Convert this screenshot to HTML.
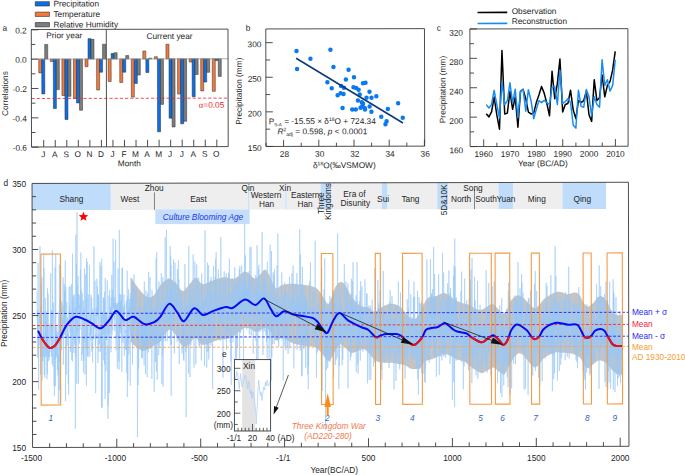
<!DOCTYPE html>
<html><head><meta charset="utf-8"><style>
html,body{margin:0;padding:0;background:#fff;width:685px;height:475px;overflow:hidden}
svg{display:block}
text{font-family:"Liberation Sans",sans-serif}
</style></head><body>
<svg width="685" height="475" viewBox="0 0 685 475">
<g transform="rotate(-0.115 130 88)">
<rect x="35.4" y="1.5" width="14.2" height="4.3" fill="#0b6fe9" stroke="#2a2a2a" stroke-width="0.6"/>
<text x="53.6" y="6.4" font-size="8.3" text-anchor="start" fill="#1e1e1e" >Precipitation</text>
<rect x="35.4" y="11.95" width="14.2" height="4.3" fill="#f4793a" stroke="#2a2a2a" stroke-width="0.6"/>
<text x="53.6" y="16.85" font-size="8.3" text-anchor="start" fill="#1e1e1e" >Temperature</text>
<rect x="35.4" y="22.4" width="14.2" height="4.3" fill="#7d7d7d" stroke="#2a2a2a" stroke-width="0.6"/>
<text x="53.6" y="27.3" font-size="8.3" text-anchor="start" fill="#1e1e1e" >Relative Humidity</text>
<text x="2.6" y="30.4" font-size="8.3" text-anchor="start" fill="#1e1e1e" >a</text>
<rect x="38.8" y="58.95" width="3" height="13.79" fill="#f4793a" stroke="#2a2a2a" stroke-width="0.5"/>
<rect x="41.8" y="58.95" width="3" height="34.78" fill="#0b6fe9" stroke="#2a2a2a" stroke-width="0.5"/>
<rect x="44.8" y="44.28" width="3" height="14.67" fill="#7d7d7d" stroke="#2a2a2a" stroke-width="0.5"/>
<rect x="50.37" y="58.95" width="3" height="2.35" fill="#f4793a" stroke="#2a2a2a" stroke-width="0.5"/>
<rect x="53.37" y="58.95" width="3" height="49.45" fill="#0b6fe9" stroke="#2a2a2a" stroke-width="0.5"/>
<rect x="56.37" y="58.95" width="3" height="30.52" fill="#7d7d7d" stroke="#2a2a2a" stroke-width="0.5"/>
<rect x="61.93" y="58.95" width="3" height="36.39" fill="#f4793a" stroke="#2a2a2a" stroke-width="0.5"/>
<rect x="64.93" y="58.95" width="3" height="60.46" fill="#0b6fe9" stroke="#2a2a2a" stroke-width="0.5"/>
<rect x="67.93" y="58.95" width="3" height="37.27" fill="#7d7d7d" stroke="#2a2a2a" stroke-width="0.5"/>
<rect x="73.5" y="58.95" width="3" height="39.33" fill="#f4793a" stroke="#2a2a2a" stroke-width="0.5"/>
<rect x="76.5" y="58.95" width="3" height="43.88" fill="#0b6fe9" stroke="#2a2a2a" stroke-width="0.5"/>
<rect x="79.5" y="58.95" width="3" height="51.22" fill="#7d7d7d" stroke="#2a2a2a" stroke-width="0.5"/>
<rect x="85.07" y="58.95" width="3" height="7.63" fill="#f4793a" stroke="#2a2a2a" stroke-width="0.5"/>
<rect x="88.07" y="38.55" width="3" height="20.4" fill="#0b6fe9" stroke="#2a2a2a" stroke-width="0.5"/>
<rect x="91.07" y="39.29" width="3" height="19.66" fill="#7d7d7d" stroke="#2a2a2a" stroke-width="0.5"/>
<rect x="96.63" y="58.95" width="3" height="30.96" fill="#f4793a" stroke="#2a2a2a" stroke-width="0.5"/>
<rect x="99.63" y="58.95" width="3" height="13.21" fill="#0b6fe9" stroke="#2a2a2a" stroke-width="0.5"/>
<rect x="102.63" y="44.13" width="3" height="14.82" fill="#7d7d7d" stroke="#2a2a2a" stroke-width="0.5"/>
<rect x="108.2" y="58.95" width="3" height="22.45" fill="#f4793a" stroke="#2a2a2a" stroke-width="0.5"/>
<rect x="111.2" y="53.52" width="3" height="5.43" fill="#0b6fe9" stroke="#2a2a2a" stroke-width="0.5"/>
<rect x="114.2" y="52.64" width="3" height="6.31" fill="#7d7d7d" stroke="#2a2a2a" stroke-width="0.5"/>
<rect x="119.77" y="58.95" width="3" height="23.48" fill="#f4793a" stroke="#2a2a2a" stroke-width="0.5"/>
<rect x="122.77" y="58.95" width="3" height="13.21" fill="#0b6fe9" stroke="#2a2a2a" stroke-width="0.5"/>
<rect x="125.77" y="55.57" width="3" height="3.38" fill="#7d7d7d" stroke="#2a2a2a" stroke-width="0.5"/>
<rect x="131.34" y="58.95" width="3" height="38.16" fill="#f4793a" stroke="#2a2a2a" stroke-width="0.5"/>
<rect x="134.34" y="58.95" width="3" height="24.51" fill="#0b6fe9" stroke="#2a2a2a" stroke-width="0.5"/>
<rect x="137.34" y="58.95" width="3" height="16.14" fill="#7d7d7d" stroke="#2a2a2a" stroke-width="0.5"/>
<rect x="142.9" y="51.03" width="3" height="7.92" fill="#f4793a" stroke="#2a2a2a" stroke-width="0.5"/>
<rect x="145.9" y="58.95" width="3" height="13.65" fill="#0b6fe9" stroke="#2a2a2a" stroke-width="0.5"/>
<rect x="148.9" y="58.22" width="3" height="0.73" fill="#7d7d7d" stroke="#2a2a2a" stroke-width="0.5"/>
<rect x="154.47" y="56.75" width="3" height="2.2" fill="#f4793a" stroke="#2a2a2a" stroke-width="0.5"/>
<rect x="157.47" y="58.95" width="3" height="72.93" fill="#0b6fe9" stroke="#2a2a2a" stroke-width="0.5"/>
<rect x="160.47" y="58.95" width="3" height="45.49" fill="#7d7d7d" stroke="#2a2a2a" stroke-width="0.5"/>
<rect x="166.04" y="44.28" width="3" height="14.67" fill="#f4793a" stroke="#2a2a2a" stroke-width="0.5"/>
<rect x="169.04" y="58.95" width="3" height="59.29" fill="#0b6fe9" stroke="#2a2a2a" stroke-width="0.5"/>
<rect x="172.04" y="58.95" width="3" height="68.09" fill="#7d7d7d" stroke="#2a2a2a" stroke-width="0.5"/>
<rect x="177.6" y="58.95" width="3" height="35.22" fill="#f4793a" stroke="#2a2a2a" stroke-width="0.5"/>
<rect x="180.6" y="58.95" width="3" height="65.01" fill="#0b6fe9" stroke="#2a2a2a" stroke-width="0.5"/>
<rect x="183.6" y="58.95" width="3" height="62.37" fill="#7d7d7d" stroke="#2a2a2a" stroke-width="0.5"/>
<rect x="189.17" y="58.95" width="3" height="3.23" fill="#f4793a" stroke="#2a2a2a" stroke-width="0.5"/>
<rect x="192.17" y="58.95" width="3" height="37.86" fill="#0b6fe9" stroke="#2a2a2a" stroke-width="0.5"/>
<rect x="195.17" y="58.95" width="3" height="15.7" fill="#7d7d7d" stroke="#2a2a2a" stroke-width="0.5"/>
<rect x="200.74" y="58.95" width="3" height="32.14" fill="#f4793a" stroke="#2a2a2a" stroke-width="0.5"/>
<rect x="203.74" y="58.95" width="3" height="23.19" fill="#0b6fe9" stroke="#2a2a2a" stroke-width="0.5"/>
<rect x="206.74" y="58.95" width="3" height="13.5" fill="#7d7d7d" stroke="#2a2a2a" stroke-width="0.5"/>
<rect x="212.31" y="58.95" width="3" height="32.58" fill="#f4793a" stroke="#2a2a2a" stroke-width="0.5"/>
<rect x="215.31" y="58.95" width="3" height="1.76" fill="#0b6fe9" stroke="#2a2a2a" stroke-width="0.5"/>
<rect x="218.31" y="58.95" width="3" height="17.61" fill="#7d7d7d" stroke="#2a2a2a" stroke-width="0.5"/>
<line x1="31.4" y1="58.95" x2="228.1" y2="58.95" stroke="#9a9a9a" stroke-width="0.8" />
<line x1="31.4" y1="98.3" x2="228.1" y2="98.3" stroke="#e8262c" stroke-width="0.8" stroke-dasharray="3.2,2"/>
<rect x="31.4" y="29.3" width="196.7" height="117.5" fill="none" stroke="#3a3a3a" stroke-width="0.9"/>
<line x1="106.4" y1="29.3" x2="106.4" y2="146.8" stroke="#3a3a3a" stroke-width="0.9" />
<line x1="31.4" y1="29.6" x2="38.4" y2="29.6" stroke="#3a3a3a" stroke-width="0.9" />
<line x1="31.4" y1="44.28" x2="35.4" y2="44.28" stroke="#3a3a3a" stroke-width="0.9" />
<line x1="31.4" y1="58.95" x2="38.4" y2="58.95" stroke="#3a3a3a" stroke-width="0.9" />
<line x1="31.4" y1="73.62" x2="35.4" y2="73.62" stroke="#3a3a3a" stroke-width="0.9" />
<line x1="31.4" y1="88.3" x2="38.4" y2="88.3" stroke="#3a3a3a" stroke-width="0.9" />
<line x1="31.4" y1="102.97" x2="35.4" y2="102.97" stroke="#3a3a3a" stroke-width="0.9" />
<line x1="31.4" y1="117.65" x2="38.4" y2="117.65" stroke="#3a3a3a" stroke-width="0.9" />
<line x1="31.4" y1="132.32" x2="35.4" y2="132.32" stroke="#3a3a3a" stroke-width="0.9" />
<line x1="31.4" y1="147" x2="38.4" y2="147" stroke="#3a3a3a" stroke-width="0.9" />
<text x="26.8" y="33.2" font-size="8.3" text-anchor="end" fill="#1e1e1e" >0.2</text>
<text x="26.8" y="62.55" font-size="8.3" text-anchor="end" fill="#1e1e1e" >0.0</text>
<text x="26.8" y="91.9" font-size="8.3" text-anchor="end" fill="#1e1e1e" >-0.2</text>
<text x="26.8" y="121.25" font-size="8.3" text-anchor="end" fill="#1e1e1e" >-0.4</text>
<text x="26.8" y="150.6" font-size="8.3" text-anchor="end" fill="#1e1e1e" >-0.6</text>
<line x1="43.6" y1="146.8" x2="43.6" y2="139.8" stroke="#3a3a3a" stroke-width="0.9" />
<text x="43.1" y="157" font-size="8.3" text-anchor="middle" fill="#1e1e1e" >J</text>
<line x1="55.14" y1="146.8" x2="55.14" y2="139.8" stroke="#3a3a3a" stroke-width="0.9" />
<text x="54.64" y="157" font-size="8.3" text-anchor="middle" fill="#1e1e1e" >A</text>
<line x1="66.68" y1="146.8" x2="66.68" y2="139.8" stroke="#3a3a3a" stroke-width="0.9" />
<text x="66.18" y="157" font-size="8.3" text-anchor="middle" fill="#1e1e1e" >S</text>
<line x1="78.22" y1="146.8" x2="78.22" y2="139.8" stroke="#3a3a3a" stroke-width="0.9" />
<text x="77.72" y="157" font-size="8.3" text-anchor="middle" fill="#1e1e1e" >O</text>
<line x1="89.76" y1="146.8" x2="89.76" y2="139.8" stroke="#3a3a3a" stroke-width="0.9" />
<text x="89.26" y="157" font-size="8.3" text-anchor="middle" fill="#1e1e1e" >N</text>
<line x1="101.3" y1="146.8" x2="101.3" y2="139.8" stroke="#3a3a3a" stroke-width="0.9" />
<text x="100.8" y="157" font-size="8.3" text-anchor="middle" fill="#1e1e1e" >D</text>
<line x1="112.84" y1="146.8" x2="112.84" y2="139.8" stroke="#3a3a3a" stroke-width="0.9" />
<text x="112.34" y="157" font-size="8.3" text-anchor="middle" fill="#1e1e1e" >J</text>
<line x1="124.38" y1="146.8" x2="124.38" y2="139.8" stroke="#3a3a3a" stroke-width="0.9" />
<text x="123.88" y="157" font-size="8.3" text-anchor="middle" fill="#1e1e1e" >F</text>
<line x1="135.92" y1="146.8" x2="135.92" y2="139.8" stroke="#3a3a3a" stroke-width="0.9" />
<text x="135.42" y="157" font-size="8.3" text-anchor="middle" fill="#1e1e1e" >M</text>
<line x1="147.46" y1="146.8" x2="147.46" y2="139.8" stroke="#3a3a3a" stroke-width="0.9" />
<text x="146.96" y="157" font-size="8.3" text-anchor="middle" fill="#1e1e1e" >A</text>
<line x1="159" y1="146.8" x2="159" y2="139.8" stroke="#3a3a3a" stroke-width="0.9" />
<text x="158.5" y="157" font-size="8.3" text-anchor="middle" fill="#1e1e1e" >M</text>
<line x1="170.54" y1="146.8" x2="170.54" y2="139.8" stroke="#3a3a3a" stroke-width="0.9" />
<text x="170.04" y="157" font-size="8.3" text-anchor="middle" fill="#1e1e1e" >J</text>
<line x1="182.08" y1="146.8" x2="182.08" y2="139.8" stroke="#3a3a3a" stroke-width="0.9" />
<text x="181.58" y="157" font-size="8.3" text-anchor="middle" fill="#1e1e1e" >J</text>
<line x1="193.62" y1="146.8" x2="193.62" y2="139.8" stroke="#3a3a3a" stroke-width="0.9" />
<text x="193.12" y="157" font-size="8.3" text-anchor="middle" fill="#1e1e1e" >A</text>
<line x1="205.16" y1="146.8" x2="205.16" y2="139.8" stroke="#3a3a3a" stroke-width="0.9" />
<text x="204.66" y="157" font-size="8.3" text-anchor="middle" fill="#1e1e1e" >S</text>
<line x1="216.7" y1="146.8" x2="216.7" y2="139.8" stroke="#3a3a3a" stroke-width="0.9" />
<text x="216.2" y="157" font-size="8.3" text-anchor="middle" fill="#1e1e1e" >O</text>
<text x="129.2" y="166.2" font-size="8.3" text-anchor="middle" fill="#1e1e1e" >Month</text>
<text transform="translate(7.9,93.3) rotate(-90)" font-size="8.3" text-anchor="middle" fill="#1e1e1e">Correlations</text>
<text x="46.4" y="38.2" font-size="8.3" text-anchor="start" fill="#1e1e1e" >Prior year</text>
<text x="146.6" y="39" font-size="8.3" text-anchor="start" fill="#1e1e1e" >Current year</text>
<text x="224.3" y="108" font-size="8.3" text-anchor="end" fill="#e8262c"><tspan font-family="Liberation Serif" font-size="8.5">&#945;</tspan>=0.05</text>
</g>
<g transform="rotate(-0.115 345 88)">
<text x="245.9" y="30.6" font-size="8.3" text-anchor="start" fill="#1e1e1e" >b</text>
<circle cx="296.6" cy="51" r="2.25" fill="#0a78f0"/>
<circle cx="297.1" cy="68.8" r="2.25" fill="#0a78f0"/>
<circle cx="310.5" cy="58.7" r="2.25" fill="#0a78f0"/>
<circle cx="330.5" cy="49.7" r="2.25" fill="#0a78f0"/>
<circle cx="333.5" cy="67" r="2.25" fill="#0a78f0"/>
<circle cx="348.6" cy="69.7" r="2.25" fill="#0a78f0"/>
<circle cx="354" cy="77.3" r="2.25" fill="#0a78f0"/>
<circle cx="345.9" cy="79.4" r="2.25" fill="#0a78f0"/>
<circle cx="327.4" cy="82.1" r="2.25" fill="#0a78f0"/>
<circle cx="331.7" cy="88.2" r="2.25" fill="#0a78f0"/>
<circle cx="341.1" cy="86" r="2.25" fill="#0a78f0"/>
<circle cx="344" cy="87.7" r="2.25" fill="#0a78f0"/>
<circle cx="353.5" cy="87.2" r="2.25" fill="#0a78f0"/>
<circle cx="356.1" cy="88" r="2.25" fill="#0a78f0"/>
<circle cx="358.6" cy="89.8" r="2.25" fill="#0a78f0"/>
<circle cx="363" cy="83.4" r="2.25" fill="#0a78f0"/>
<circle cx="365.5" cy="82.7" r="2.25" fill="#0a78f0"/>
<circle cx="369.5" cy="91.9" r="2.25" fill="#0a78f0"/>
<circle cx="337.6" cy="95.3" r="2.25" fill="#0a78f0"/>
<circle cx="340.6" cy="93.3" r="2.25" fill="#0a78f0"/>
<circle cx="343.5" cy="94" r="2.25" fill="#0a78f0"/>
<circle cx="359.7" cy="94.6" r="2.25" fill="#0a78f0"/>
<circle cx="376.3" cy="96.4" r="2.25" fill="#0a78f0"/>
<circle cx="366.5" cy="97.8" r="2.25" fill="#0a78f0"/>
<circle cx="371.5" cy="97.9" r="2.25" fill="#0a78f0"/>
<circle cx="357.9" cy="100.6" r="2.25" fill="#0a78f0"/>
<circle cx="361.8" cy="102.3" r="2.25" fill="#0a78f0"/>
<circle cx="363" cy="103.8" r="2.25" fill="#0a78f0"/>
<circle cx="362.2" cy="106.3" r="2.25" fill="#0a78f0"/>
<circle cx="364.6" cy="108" r="2.25" fill="#0a78f0"/>
<circle cx="365" cy="109.6" r="2.25" fill="#0a78f0"/>
<circle cx="360.5" cy="107.9" r="2.25" fill="#0a78f0"/>
<circle cx="369.6" cy="106.5" r="2.25" fill="#0a78f0"/>
<circle cx="342.5" cy="108" r="2.25" fill="#0a78f0"/>
<circle cx="352.2" cy="109.5" r="2.25" fill="#0a78f0"/>
<circle cx="355.8" cy="109.4" r="2.25" fill="#0a78f0"/>
<circle cx="371.4" cy="111.7" r="2.25" fill="#0a78f0"/>
<circle cx="398.1" cy="103.4" r="2.25" fill="#0a78f0"/>
<circle cx="387.8" cy="109.1" r="2.25" fill="#0a78f0"/>
<circle cx="381.2" cy="116.9" r="2.25" fill="#0a78f0"/>
<circle cx="386.5" cy="121.3" r="2.25" fill="#0a78f0"/>
<circle cx="385.4" cy="124.4" r="2.25" fill="#0a78f0"/>
<circle cx="402.7" cy="117.9" r="2.25" fill="#0a78f0"/>
<line x1="296.2" y1="58.2" x2="402.9" y2="123.1" stroke="#0d3a78" stroke-width="1.6" />
<rect x="265.9" y="28.8" width="158.7" height="117.5" fill="none" stroke="#3a3a3a" stroke-width="0.9"/>
<line x1="265.9" y1="146.3" x2="272.8" y2="146.3" stroke="#3a3a3a" stroke-width="0.9" />
<text x="261.5" y="150.9" font-size="8.3" text-anchor="end" fill="#1e1e1e" >150</text>
<line x1="265.9" y1="129" x2="270.1" y2="129" stroke="#3a3a3a" stroke-width="0.9" />
<line x1="265.9" y1="111.7" x2="272.8" y2="111.7" stroke="#3a3a3a" stroke-width="0.9" />
<text x="261.5" y="116.3" font-size="8.3" text-anchor="end" fill="#1e1e1e" >200</text>
<line x1="265.9" y1="94.4" x2="270.1" y2="94.4" stroke="#3a3a3a" stroke-width="0.9" />
<line x1="265.9" y1="77.1" x2="272.8" y2="77.1" stroke="#3a3a3a" stroke-width="0.9" />
<text x="261.5" y="81.7" font-size="8.3" text-anchor="end" fill="#1e1e1e" >250</text>
<line x1="265.9" y1="59.8" x2="270.1" y2="59.8" stroke="#3a3a3a" stroke-width="0.9" />
<line x1="265.9" y1="42.5" x2="272.8" y2="42.5" stroke="#3a3a3a" stroke-width="0.9" />
<text x="261.5" y="47.1" font-size="8.3" text-anchor="end" fill="#1e1e1e" >300</text>
<line x1="265.9" y1="146.3" x2="265.9" y2="142.7" stroke="#3a3a3a" stroke-width="0.9" />
<line x1="283.5" y1="146.3" x2="283.5" y2="139.7" stroke="#3a3a3a" stroke-width="0.9" />
<text x="284.3" y="156.8" font-size="8.3" text-anchor="middle" fill="#1e1e1e" >28</text>
<line x1="301.1" y1="146.3" x2="301.1" y2="142.7" stroke="#3a3a3a" stroke-width="0.9" />
<line x1="318.7" y1="146.3" x2="318.7" y2="139.7" stroke="#3a3a3a" stroke-width="0.9" />
<text x="319.5" y="156.8" font-size="8.3" text-anchor="middle" fill="#1e1e1e" >30</text>
<line x1="336.3" y1="146.3" x2="336.3" y2="142.7" stroke="#3a3a3a" stroke-width="0.9" />
<line x1="353.9" y1="146.3" x2="353.9" y2="139.7" stroke="#3a3a3a" stroke-width="0.9" />
<text x="354.7" y="156.8" font-size="8.3" text-anchor="middle" fill="#1e1e1e" >32</text>
<line x1="371.5" y1="146.3" x2="371.5" y2="142.7" stroke="#3a3a3a" stroke-width="0.9" />
<line x1="389.1" y1="146.3" x2="389.1" y2="139.7" stroke="#3a3a3a" stroke-width="0.9" />
<text x="389.9" y="156.8" font-size="8.3" text-anchor="middle" fill="#1e1e1e" >34</text>
<line x1="406.7" y1="146.3" x2="406.7" y2="142.7" stroke="#3a3a3a" stroke-width="0.9" />
<line x1="424.3" y1="146.3" x2="424.3" y2="139.7" stroke="#3a3a3a" stroke-width="0.9" />
<text x="425.1" y="156.8" font-size="8.3" text-anchor="middle" fill="#1e1e1e" >36</text>
<text transform="translate(241.8,91) rotate(-90)" font-size="8.3" text-anchor="middle" fill="#1e1e1e">Precipitation (mm)</text>
<text x="344.2" y="168.1" font-size="8.3" text-anchor="middle" fill="#1e1e1e">&#948;<tspan font-size="5" dy="-3">18</tspan><tspan dy="3">O(&#8240;VSMOW)</tspan></text>
<text x="268.6" y="124" font-size="8.3" fill="#1e1e1e">P<tspan font-size="4.6" dy="2.2">S-A</tspan><tspan dy="-2.2"> = -15.55 &#215; &#948;</tspan><tspan font-size="5" dy="-3">18</tspan><tspan dy="3">O + 724.34</tspan></text>
<text x="277.4" y="134.2" font-size="8.3" fill="#1e1e1e"><tspan font-style="italic">R</tspan><tspan font-size="5" dy="-3">2</tspan><tspan font-size="5" dy="4.6">adj</tspan><tspan dy="-1.6"> = 0.598, </tspan><tspan font-style="italic">p</tspan> &lt; 0.0001</text>
</g>
<g transform="rotate(-0.115 549 88)">
<text x="436.8" y="30.6" font-size="8.3" text-anchor="start" fill="#1e1e1e" >c</text>
<line x1="477.7" y1="12.3" x2="507.4" y2="12.3" stroke="#000" stroke-width="1.6" />
<line x1="477.7" y1="23.3" x2="507.4" y2="23.3" stroke="#1a8cf0" stroke-width="1.6" />
<text x="511.8" y="13.9" font-size="8.3" text-anchor="start" fill="#1e1e1e" >Observation</text>
<text x="511.8" y="24" font-size="8.3" text-anchor="start" fill="#1e1e1e" >Reconstruction</text>
<polyline points="486.23,113.62 488.87,116.78 491.5,111.71 494.14,96.93 496.77,114.87 499.4,129.05 502.04,50.41 504.67,113.91 507.31,113.03 509.94,91.2 512.57,109.21 515.21,96.93 517.84,127.22 520.48,91.28 523.11,89.29 525.74,98.77 528.38,112 531.01,113.91 533.65,113.03 536.28,102.59 538.91,95.02 541.55,86.42 544.18,93.11 546.82,103.48 549.45,115.75 552.08,71.28 554.72,98.77 557.35,83.63 559.99,59.01 562.62,112 565.25,104.5 567.89,103.48 570.52,90.25 573.16,110.09 575.79,118.69 578.42,100.68 581.06,102.59 583.69,100.68 586.33,91.28 588.96,114.87 591.59,121.48 594.23,79.81 596.86,100.68 599.5,97.82 602.13,75.11 604.76,96.93 607.4,85.47 610.03,81.72 612.67,70.33 615.3,51.44" fill="none" stroke="#000" stroke-width="1.5" stroke-linejoin="round"/>
<polyline points="486.23,104.5 488.87,107.89 491.5,104.5 494.14,90.25 496.77,104.5 499.4,117.73 502.04,81.72 504.67,104.5 507.31,100.68 509.94,82.68 512.57,102.59 515.21,89.29 517.84,117.73 520.48,91.2 523.11,89.29 525.74,111.05 528.38,89.66 531.01,100.68 533.65,118.69 536.28,109.21 538.91,100.68 541.55,102.59 544.18,100.32 546.82,102.59 549.45,104.5 552.08,87.38 554.72,86.42 557.35,104.5 559.99,70.33 562.62,103.48 565.25,101.56 567.89,98.77 570.52,102.59 573.16,125.31 575.79,128.17 578.42,90.25 581.06,106.42 583.69,107.3 586.33,89.66 588.96,96.93 591.59,115.75 594.23,96.93 596.86,104.5 599.5,107.3 602.13,59.89 604.76,85.47 607.4,79.81 610.03,91.2 612.67,85.47 615.3,59.89" fill="none" stroke="#1a8cf0" stroke-width="1.5" stroke-linejoin="round"/>
<rect x="470.0" y="28.8" width="158" height="117.6" fill="none" stroke="#3a3a3a" stroke-width="0.9"/>
<line x1="470" y1="146.4" x2="477" y2="146.4" stroke="#3a3a3a" stroke-width="0.9" />
<text x="463.1" y="153.1" font-size="8.3" text-anchor="end" fill="#1e1e1e" >160</text>
<line x1="470" y1="131.7" x2="474" y2="131.7" stroke="#3a3a3a" stroke-width="0.9" />
<line x1="470" y1="117" x2="477" y2="117" stroke="#3a3a3a" stroke-width="0.9" />
<text x="463.1" y="123.7" font-size="8.3" text-anchor="end" fill="#1e1e1e" >200</text>
<line x1="470" y1="102.3" x2="474" y2="102.3" stroke="#3a3a3a" stroke-width="0.9" />
<line x1="470" y1="87.6" x2="477" y2="87.6" stroke="#3a3a3a" stroke-width="0.9" />
<text x="463.1" y="94.3" font-size="8.3" text-anchor="end" fill="#1e1e1e" >240</text>
<line x1="470" y1="72.9" x2="474" y2="72.9" stroke="#3a3a3a" stroke-width="0.9" />
<line x1="470" y1="58.2" x2="477" y2="58.2" stroke="#3a3a3a" stroke-width="0.9" />
<text x="463.1" y="64.9" font-size="8.3" text-anchor="end" fill="#1e1e1e" >280</text>
<line x1="470" y1="43.5" x2="474" y2="43.5" stroke="#3a3a3a" stroke-width="0.9" />
<line x1="470" y1="28.8" x2="477" y2="28.8" stroke="#3a3a3a" stroke-width="0.9" />
<text x="463.1" y="35.5" font-size="8.3" text-anchor="end" fill="#1e1e1e" >320</text>
<line x1="483.6" y1="146.4" x2="483.6" y2="139.2" stroke="#3a3a3a" stroke-width="0.9" />
<text x="483.6" y="156.8" font-size="8.3" text-anchor="middle" fill="#1e1e1e" >1960</text>
<line x1="496.77" y1="146.4" x2="496.77" y2="142.6" stroke="#3a3a3a" stroke-width="0.9" />
<line x1="509.94" y1="146.4" x2="509.94" y2="139.2" stroke="#3a3a3a" stroke-width="0.9" />
<text x="509.94" y="156.8" font-size="8.3" text-anchor="middle" fill="#1e1e1e" >1970</text>
<line x1="523.11" y1="146.4" x2="523.11" y2="142.6" stroke="#3a3a3a" stroke-width="0.9" />
<line x1="536.28" y1="146.4" x2="536.28" y2="139.2" stroke="#3a3a3a" stroke-width="0.9" />
<text x="536.28" y="156.8" font-size="8.3" text-anchor="middle" fill="#1e1e1e" >1980</text>
<line x1="549.45" y1="146.4" x2="549.45" y2="142.6" stroke="#3a3a3a" stroke-width="0.9" />
<line x1="562.62" y1="146.4" x2="562.62" y2="139.2" stroke="#3a3a3a" stroke-width="0.9" />
<text x="562.62" y="156.8" font-size="8.3" text-anchor="middle" fill="#1e1e1e" >1990</text>
<line x1="575.79" y1="146.4" x2="575.79" y2="142.6" stroke="#3a3a3a" stroke-width="0.9" />
<line x1="588.96" y1="146.4" x2="588.96" y2="139.2" stroke="#3a3a3a" stroke-width="0.9" />
<text x="588.96" y="156.8" font-size="8.3" text-anchor="middle" fill="#1e1e1e" >2000</text>
<line x1="602.13" y1="146.4" x2="602.13" y2="142.6" stroke="#3a3a3a" stroke-width="0.9" />
<line x1="615.3" y1="146.4" x2="615.3" y2="139.2" stroke="#3a3a3a" stroke-width="0.9" />
<text x="615.3" y="156.8" font-size="8.3" text-anchor="middle" fill="#1e1e1e" >2010</text>
<text transform="translate(445.5,89.3) rotate(-90)" font-size="8.3" text-anchor="middle" fill="#1e1e1e">Precipitation (mm)</text>
<text x="542.7" y="166.3" font-size="8.3" text-anchor="middle" fill="#1e1e1e" >Year (BC/AD)</text>
</g>
<clipPath id="dclip"><rect x="32.6" y="182.8" width="595.9" height="264.8"/></clipPath>
<g clip-path="url(#dclip)">
<path d="M130.5,277.5C130.7,277.7 130.53,277.13 131.7,278.7C132.87,280.27 135.55,284.37 137.5,286.9C139.45,289.43 141.45,292.15 143.4,293.9C145.35,295.65 147.27,297.4 149.2,297.4C151.13,297.4 153.05,296.05 155,293.9C156.95,291.75 158.57,287.03 160.9,284.5C163.23,281.97 166.48,278.88 169,278.7C171.52,278.52 173.65,281.37 176,283.4C178.35,285.43 180.75,290.9 183.1,290.9C185.45,290.9 187.97,285.63 190.1,283.4C192.23,281.17 194.3,277.75 195.9,277.5C197.5,277.25 198.48,280.78 199.7,281.9C200.92,283.02 201.65,284.2 203.2,284.2C204.75,284.2 206.47,282.87 209,281.9C211.53,280.93 215.67,279.18 218.4,278.4C221.13,277.62 223.07,277.12 225.4,277.2C227.73,277.28 230.47,278.9 232.4,278.9C234.33,278.9 235.25,278.27 237,277.2C238.75,276.13 241.13,273.28 242.9,272.5C244.67,271.72 245.65,271.52 247.6,272.5C249.55,273.48 252.47,278.1 254.6,278.4C256.73,278.7 258.65,275.77 260.4,274.3C262.15,272.83 263.55,269.32 265.1,269.6C266.65,269.88 268.3,273.52 269.7,276C271.1,278.48 272.28,282.4 273.5,284.5C274.72,286.6 275.63,288.5 277,288.6C278.37,288.7 279.95,285.88 281.7,285.1C283.45,284.32 285.17,284.1 287.5,283.9C289.83,283.7 292.78,283.7 295.7,283.9C298.62,284.1 302.28,284.7 305,285.1C307.72,285.5 310.05,285.72 312,286.3C313.95,286.88 315.13,287.33 316.7,288.6C318.27,289.87 320.03,292.05 321.4,293.9C322.77,295.75 323.73,297.95 324.9,299.7C326.07,301.45 327.23,304.98 328.4,304.4C329.57,303.82 330.73,299.12 331.9,296.2C333.07,293.28 334.03,289.23 335.4,286.9C336.77,284.57 338.55,282.6 340.1,282.2C341.65,281.8 343.1,282.63 344.7,284.5C346.3,286.37 347.9,290.57 349.7,293.4C351.5,296.23 353.55,299.37 355.5,301.5C357.45,303.63 359.25,305.22 361.4,306.2C363.55,307.18 366.27,306.52 368.4,307.4C370.53,308.28 372.27,311.32 374.2,311.5C376.13,311.68 378.05,309.58 380,308.5C381.95,307.42 383.57,305.77 385.9,305C388.23,304.23 391.47,303.5 394,303.9C396.53,304.3 398.95,305.65 401.1,307.4C403.25,309.15 404.97,312.47 406.9,314.4C408.83,316.33 410.95,318.62 412.7,319C414.45,319.38 415.93,318.2 417.4,316.7C418.87,315.2 420.28,312.38 421.5,310C422.72,307.62 423.4,304.55 424.7,302.4C426,300.25 427.35,298.17 429.3,297.1C431.25,296.03 434.05,296.68 436.4,296C438.75,295.32 441.27,293.1 443.4,293C445.53,292.9 447.27,294.23 449.2,295.4C451.13,296.57 452.87,298.73 455,300C457.13,301.27 459.67,302.22 462,303C464.33,303.78 466.85,303.83 469,304.7C471.15,305.57 472.95,307.32 474.9,308.2C476.85,309.08 478.75,310.2 480.7,310C482.65,309.8 484.65,307.98 486.6,307C488.55,306.02 490.42,303.7 492.4,304.1C494.38,304.5 496.7,307.83 498.5,309.4C500.3,310.97 501.65,313.7 503.2,313.5C504.75,313.3 506.43,310.45 507.8,308.2C509.17,305.95 509.83,302.13 511.4,300C512.97,297.87 515.27,295.78 517.2,295.4C519.13,295.02 521.05,296.35 523,297.7C524.95,299.05 526.95,301.75 528.9,303.5C530.85,305.25 532.95,308 534.7,308.2C536.45,308.4 537.85,306.25 539.4,304.7C540.95,303.15 542.05,300.65 544,298.9C545.95,297.15 548.95,295.37 551.1,294.2C553.25,293.03 554.97,292.2 556.9,291.9C558.83,291.6 561.02,292.02 562.7,292.4C564.38,292.78 564.92,294.2 567,294.2C569.08,294.2 573.05,292.2 575.2,292.4C577.35,292.6 578.53,293.73 579.9,295.4C581.27,297.07 582.05,300.55 583.4,302.4C584.75,304.25 586.45,306.32 588,306.5C589.55,306.68 590.95,305.07 592.7,303.5C594.45,301.93 596.95,298.27 598.5,297.1C600.05,295.93 600.63,295.82 602,296.5C603.37,297.18 605.33,299.25 606.7,301.2C608.07,303.15 609.03,306.25 610.2,308.2C611.37,310.15 612.53,311.77 613.7,312.9C614.87,314.03 615.73,314.62 617.2,315C618.67,315.38 621.62,315.17 622.5,315.2L622.5,375C621.82,374.85 619.87,374.65 618.4,374.1C616.93,373.55 615.27,373.07 613.7,371.7C612.13,370.33 610.55,367.55 609,365.9C607.45,364.25 606.15,362.68 604.4,361.8C602.65,360.92 600.45,360.12 598.5,360.6C596.55,361.08 594.45,363.43 592.7,364.7C590.95,365.97 589.37,368.2 588,368.2C586.63,368.2 585.85,366.45 584.5,364.7C583.15,362.95 581.65,359.45 579.9,357.7C578.15,355.95 576.47,355.02 574,354.2C571.53,353.38 568.15,353.13 565.1,352.8C562.05,352.47 558.03,352.02 555.7,352.2C553.37,352.38 553.05,352.93 551.1,353.9C549.15,354.87 545.95,356.33 544,358C542.05,359.67 540.95,362.33 539.4,363.9C537.85,365.47 536.45,367.7 534.7,367.4C532.95,367.1 530.85,364.15 528.9,362.1C526.95,360.05 524.75,356.55 523,355.1C521.25,353.65 519.95,352.92 518.4,353.4C516.85,353.88 515.27,355.87 513.7,358C512.13,360.13 510.57,363.47 509,366.2C507.43,368.93 505.85,373.43 504.3,374.4C502.75,375.37 501.48,373.17 499.7,372C497.92,370.83 495.6,367.68 493.6,367.4C491.6,367.12 489.65,369.33 487.7,370.3C485.75,371.27 483.83,373.2 481.9,373.2C479.97,373.2 478.05,371.47 476.1,370.3C474.15,369.13 472.15,367.67 470.2,366.2C468.25,364.73 466.53,362.57 464.4,361.5C462.27,360.43 459.73,360.77 457.4,359.8C455.07,358.83 452.55,356.68 450.4,355.7C448.25,354.72 446.45,353.8 444.5,353.9C442.55,354 440.83,355.42 438.7,356.3C436.57,357.18 434.03,358.33 431.7,359.2C429.37,360.07 426.5,360.13 424.7,361.5C422.9,362.87 422.5,366.13 420.9,367.4C419.3,368.67 416.85,368.92 415.1,369.1C413.35,369.28 412.15,369.18 410.4,368.5C408.65,367.82 406.55,365.77 404.6,365C402.65,364.23 400.85,364.28 398.7,363.9C396.55,363.52 394.42,362.9 391.7,362.7C388.98,362.5 385.12,363.08 382.4,362.7C379.68,362.32 377.55,361.87 375.4,360.4C373.25,358.93 371.45,355.75 369.5,353.9C367.55,352.05 365.83,349.68 363.7,349.3C361.57,348.92 358.85,351.02 356.7,351.6C354.55,352.18 352.8,353.58 350.8,352.8C348.8,352.02 346.48,348.28 344.7,346.9C342.92,345.52 341.65,343.92 340.1,344.5C338.55,345.08 336.77,348.25 335.4,350.4C334.03,352.55 333.07,355.65 331.9,357.4C330.73,359.15 329.57,360.9 328.4,360.9C327.23,360.9 326.27,358.97 324.9,357.4C323.53,355.83 321.95,353.25 320.2,351.5C318.45,349.75 316.53,347.77 314.4,346.9C312.27,346.03 309.73,346.6 307.4,346.3C305.07,346 302.73,345.58 300.4,345.1C298.07,344.62 295.55,344.18 293.4,343.4C291.25,342.62 289.45,341.28 287.5,340.4C285.55,339.52 283.65,338.1 281.7,338.1C279.75,338.1 277.6,341.33 275.8,340.4C274,339.47 272.5,334.6 270.9,332.5C269.3,330.4 267.75,328.28 266.2,327.8C264.65,327.32 263.35,328.92 261.6,329.6C259.85,330.28 257.45,332 255.7,331.9C253.95,331.8 252.85,329.68 251.1,329C249.35,328.32 247.35,327.22 245.2,327.8C243.05,328.38 240.33,330.93 238.2,332.5C236.07,334.07 234.53,336.13 232.4,337.2C230.27,338.27 227.73,338.42 225.4,338.9C223.07,339.38 220.73,339.52 218.4,340.1C216.07,340.68 213.75,341.62 211.4,342.4C209.05,343.18 206.25,344.7 204.3,344.8C202.35,344.9 201.1,344.22 199.7,343C198.3,341.78 197.12,338.02 195.9,337.5C194.68,336.98 193.77,338.53 192.4,339.9C191.03,341.27 189.25,344.63 187.7,345.7C186.15,346.77 184.65,347.27 183.1,346.3C181.55,345.33 179.97,342.33 178.4,339.9C176.83,337.47 175.27,333.37 173.7,331.7C172.13,330.03 170.55,329.32 169,329.9C167.45,330.48 165.75,333.35 164.4,335.2C163.05,337.05 162.47,339.35 160.9,341C159.33,342.65 156.95,343.83 155,345.1C153.05,346.37 151.13,347.62 149.2,348.6C147.27,349.58 145.35,351.1 143.4,351C141.45,350.9 139.45,349.33 137.5,348C135.55,346.67 132.87,344.33 131.7,343C130.53,341.67 130.7,340.5 130.5,340Z" fill="#c4c4c4"/>
<polyline points="36.93,291.18 37.09,315.18 37.26,320.58 37.43,324.55 37.6,333.02 37.77,310.44 37.93,357.54 38.1,262.83 38.27,357.79 38.44,325.49 38.61,389.81 38.77,337.65 38.94,333.1 39.11,337.48 39.28,345.64 39.44,314.57 39.61,323.04 39.78,289.45 39.95,246 40.12,333.93 40.28,340.24 40.45,374.5 40.62,306.5 40.79,357.53 40.95,336.96 41.12,335.62 41.29,285.54 41.46,347.31 41.63,281.07 41.79,278.09 41.96,277.53 42.13,380.57 42.3,339.35 42.46,361.05 42.63,349.94 42.8,361.25 42.97,337.1 43.14,330.37 43.3,311.64 43.47,356.49 43.64,254.6 43.81,326.27 43.97,268.21 44.14,364.6 44.31,375.01 44.48,340.25 44.65,335.17 44.81,377.84 44.98,312.23 45.15,336.21 45.32,297.95 45.48,357.24 45.65,351.64 45.82,321.4 45.99,349.89 46.16,311.42 46.32,355.9 46.49,339.99 46.66,329.09 46.83,314.78 47,379.14 47.16,342 47.33,373.98 47.5,288.3 47.67,342.4 47.83,328.27 48,361.59 48.17,293.78 48.34,347.39 48.51,354.9 48.67,357.59 48.84,351.25 49.01,359.13 49.18,360.34 49.34,331.57 49.51,323.64 49.68,356.58 49.85,348.73 50.02,351.72 50.18,346.96 50.35,345.77 50.52,331.39 50.69,273.21 50.85,338.78 51.02,337.9 51.19,315.47 51.36,331.31 51.53,310.19 51.69,356.55 51.86,310.83 52.03,328.64 52.2,363.58 52.36,250.53 52.53,301.12 52.7,323.27 52.87,366.25 53.04,350.6 53.2,339.72 53.37,302.55 53.54,313.89 53.71,320.25 53.88,346.5 54.04,386.07 54.21,347.01 54.38,395.76 54.55,381.38 54.71,358.61 54.88,335.06 55.05,267.38 55.22,359.45 55.39,326.36 55.55,386.36 55.72,253.91 55.89,344.91 56.06,358.21 56.22,331.78 56.39,341.28 56.56,355.92 56.73,326.5 56.9,343.18 57.06,335.23 57.23,347.53 57.4,370.21 57.57,349.09 57.73,343.65 57.9,331.96 58.07,375.57 58.24,354.29 58.41,404.21 58.57,347.61 58.74,320.55 58.91,311.26 59.08,345.81 59.24,390.11 59.41,264.6 59.58,351.43 59.75,296.55 59.92,361.74 60.08,338.31 60.25,403.7 60.42,374.16 60.59,359.35 60.75,272.59 60.92,343.6 61.09,300.7 61.26,319.24 61.43,308.56 61.59,350.35 61.76,345.63 61.93,309.7 62.1,302.88 62.27,337.67 62.43,317.23 62.6,328.33 62.77,338.88 62.94,334.7 63.1,277.34 63.27,362.53 63.44,364.64 63.61,337.11 63.78,305.23 63.94,324.38 64.11,294.59 64.28,283.96 64.45,334.76 64.61,290.26 64.78,326.13 64.95,292.65 65.12,322.93 65.29,260.4 65.45,352.04 65.62,401.02 65.79,287.08 65.96,333.54 66.12,348.32 66.29,374.63 66.46,334.14 66.63,332.83 66.8,302.02 66.96,346.1 67.13,333.98 67.3,337.61 67.47,317.42 67.63,338.1 67.8,318.98 67.97,334.98 68.14,346.07 68.31,383.53 68.47,333.69 68.64,394.89 68.81,316.63 68.98,316.89 69.14,286.77 69.31,320.24 69.48,305.68 69.65,329.35 69.82,328.96 69.98,332.69 70.15,285.88 70.32,314.92 70.49,324.89 70.66,352.02 70.82,314.68 70.99,336.02 71.16,319.91 71.33,315.38 71.49,284.21 71.66,291.29 71.83,359.99 72,318.76 72.17,311.76 72.33,361.7 72.5,253.73 72.67,320.69 72.84,297.27 73,339.58 73.17,328.75 73.34,294.74 73.51,313.07 73.68,344.62 73.84,352.9 74.01,323.88 74.18,321.96 74.35,319.57 74.51,301.27 74.68,294.72 74.85,344.96 75.02,324.04 75.19,307.43 75.35,428.8 75.52,334.51 75.69,356.28 75.86,234.8 76.02,333.83 76.19,296.67 76.36,263.62 76.53,315.62 76.7,383.69 76.86,300.78 77.03,212 77.2,339.58 77.37,320.77 77.53,285.63 77.7,332.9 77.87,324.82 78.04,275.76 78.21,338.64 78.37,383.77 78.54,293.71 78.71,296.76 78.88,307.98 79.05,299.57 79.21,295.16 79.38,343.58 79.55,321.68 79.72,305.58 79.88,326.95 80.05,329.75 80.22,326.45 80.39,269.29 80.56,315.88 80.72,296.25 80.89,252.43 81.06,318.77 81.23,312.81 81.39,290.09 81.56,320.61 81.73,360.82 81.9,334.96 82.07,304.14 82.23,292.67 82.4,304.64 82.57,313.21 82.74,354.43 82.9,322.14 83.07,320.44 83.24,300.48 83.41,372.58 83.58,336.63 83.74,360.99 83.91,308.21 84.08,320.27 84.25,342.23 84.41,268.44 84.58,329.83 84.75,339.3 84.92,337.08 85.09,374.94 85.25,338.6 85.42,309.79 85.59,274.51 85.76,291.7 85.92,336.01 86.09,349.52 86.26,297.75 86.43,385.51 86.6,258.3 86.76,316.85 86.93,349.02 87.1,299.84 87.27,261.97 87.44,315.75 87.6,356.18 87.77,326.78 87.94,340.04 88.11,357.02 88.27,294.64 88.44,300.36 88.61,308.89 88.78,326.14 88.95,325.74 89.11,306.08 89.28,299.15 89.45,265.09 89.62,320.46 89.78,356.41 89.95,338.97 90.12,321.33 90.29,339.96 90.46,313.19 90.62,336.32 90.79,309.25 90.96,294.52 91.13,329.85 91.29,334.61 91.46,329.14 91.63,297.94 91.8,351.77 91.97,351.3 92.13,337.33 92.3,345.44 92.47,343.54 92.64,362.36 92.8,308.62 92.97,318.47 93.14,339.52 93.31,335.36 93.48,315.58 93.64,312.08 93.81,338.71 93.98,246.45 94.15,311.58 94.31,313.95 94.48,320.35 94.65,324.15 94.82,328.92 94.99,280.59 95.15,305.12 95.32,347.01 95.49,334.64 95.66,393.13 95.83,340.63 95.99,308.06 96.16,317.97 96.33,326.24 96.5,339.19 96.66,327.79 96.83,278.78 97,315.99 97.17,307.01 97.34,315.6 97.5,286.32 97.67,308.25 97.84,294.87 98.01,362.89 98.17,296.52 98.34,318.61 98.51,294.38 98.68,345.89 98.85,351.77 99.01,333.63 99.18,338.47 99.35,343.84 99.52,324.51 99.68,278.6 99.85,261.98 100.02,267.11 100.19,334.38 100.36,351.65 100.52,347.35 100.69,315.25 100.86,265.65 101.03,322.32 101.19,339.14 101.36,317.34 101.53,407.52 101.7,258.92 101.87,347.92 102.03,312.46 102.2,407.66 102.37,315.77 102.54,311.58 102.7,324.87 102.87,326.42 103.04,328.8 103.21,334.46 103.38,297.35 103.54,348.66 103.71,360.29 103.88,298.67 104.05,322.37 104.22,298.4 104.38,322.43 104.55,364.45 104.72,291.73 104.89,314.84 105.05,398.93 105.22,278.06 105.39,332.92 105.56,312.67 105.73,354.68 105.89,352.79 106.06,371.19 106.23,312.12 106.4,321.03 106.56,315.6 106.73,340 106.9,318.47 107.07,304.87 107.24,280.37 107.4,334.7 107.57,319.99 107.74,319.07 107.91,418.8 108.07,345.27 108.24,406.05 108.41,316.37 108.58,316.12 108.75,338.15 108.91,295.63 109.08,336.16 109.25,343.87 109.42,393.13 109.58,291.92 109.75,290.17 109.92,327.88 110.09,333.35 110.26,315.74 110.42,307.2 110.59,311.57 110.76,306.83 110.93,352.21 111.09,351.57 111.26,297.5 111.43,327.08 111.6,324.93 111.77,274.98 111.93,335.21 112.1,318.15 112.27,322.81 112.44,289.63 112.6,294.86 112.77,330.16 112.94,275.29 113.11,238.5 113.28,306.55 113.44,307.63 113.61,298.05 113.78,309.03 113.95,282.9 114.12,261.44 114.28,319.63 114.45,302.86 114.62,315.44 114.79,330.93 114.95,307.27 115.12,297.03 115.29,303.05 115.46,314.03 115.63,239.7 115.79,298.64 115.96,307.66 116.13,350.24 116.3,303.62 116.46,305.72 116.63,338.25 116.8,303.53 116.97,320.59 117.14,364.29 117.3,368.73 117.47,359.77 117.64,303.02 117.81,337.4 117.97,285.94 118.14,268.71 118.31,288.72 118.48,315.28 118.65,323.37 118.81,361.72 118.98,301.4 119.15,369.62 119.32,229.8 119.48,349.47 119.65,293.74 119.82,327.69 119.99,315.14 120.16,294.94 120.32,326.26 120.49,301.33 120.66,333.26 120.83,303.89 121,328.59 121.16,294.29 121.33,339.12 121.5,300.03 121.67,308.88 121.83,372.14 122,268.25 122.17,323.9 122.34,299.34 122.51,267.53 122.67,292.5 122.84,337.39 123.01,342.92 123.18,313.01 123.34,322.6 123.51,307.3 123.68,325.22 123.85,314.6 124.02,294.45 124.18,307.76 124.35,355.76 124.52,326.3 124.69,303.88 124.85,323.54 125.02,320.67 125.19,319.84 125.36,323.24 125.53,332.98 125.69,330.18 125.86,349.55 126.03,335.65 126.2,349.76 126.36,300.8 126.53,311.34 126.7,372.73 126.87,361.3 127.04,337.28 127.2,270.78 127.37,397 127.54,301.98 127.71,296.13 127.87,380.98 128.04,324.92 128.21,343.46 128.38,301.19 128.55,290.01 128.71,289.09 128.88,354.49 129.05,307.36 129.22,313.31 129.38,298.93 129.55,309.64 129.72,315.89 129.89,330.56 130.06,303.28 130.22,385.66 130.39,293.1 130.56,315.1 130.73,335.71 130.9,321.82 131.06,335.11 131.23,297.27 131.4,308.53 131.57,305.79 131.73,298.76 131.9,315.62 132.07,278.53 132.24,304.67 132.41,328.49 132.57,364.9 132.74,321.29 132.91,289.56 133.08,288.76 133.24,317.81 133.41,337.77 133.58,321.58 133.75,323.76 133.92,298.85 134.08,274.42 134.25,317.51 134.42,321.84 134.59,311.52 134.75,290.73 134.92,298.72 135.09,313.31 135.26,328.55 135.43,305.83 135.59,316.05 135.76,328.46 135.93,296.44 136.1,291.39 136.26,291.28 136.43,287.02 136.6,338.48 136.77,336.02 136.94,323.56 137.1,329.42 137.27,332.45 137.44,437.2 137.61,400.64 137.78,314.67 137.94,358.35 138.11,385.18 138.28,319.16 138.45,318.91 138.61,368.7 138.78,333.26 138.95,305.22 139.12,317.05 139.29,317.7 139.45,333.46 139.62,325.64 139.79,294.4 139.96,304.03 140.12,329.13 140.29,308.87 140.46,307.33 140.63,329.17 140.8,329.05 140.96,331.56 141.13,337.17 141.3,325.95 141.47,357.74 141.63,314.2 141.8,345.24 141.97,319.31 142.14,337.3 142.31,320.81 142.47,358.31 142.64,306.44 142.81,342.52 142.98,336.04 143.14,324.72 143.31,348.06 143.48,314.29 143.65,337.49 143.82,336.34 143.98,353.41 144.15,365.22 144.32,281.51 144.49,345.8 144.65,322.46 144.82,348.22 144.99,332.81 145.16,335.82 145.33,301.36 145.49,373.9 145.66,309.14 145.83,345.9 146,290.43 146.16,309.75 146.33,317.22 146.5,345.17 146.67,302.8 146.84,303.13 147,325.77 147.17,377.2 147.34,319.52 147.51,326.91 147.68,292.78 147.84,324.08 148.01,314.54 148.18,324.85 148.35,352.39 148.51,330.94 148.68,272.04 148.85,311.72 149.02,338.05 149.19,325.37 149.35,312.67 149.52,325.98 149.69,310.04 149.86,329.6 150.02,277.12 150.19,348.91 150.36,310.94 150.53,314.53 150.7,336.53 150.86,318.83 151.03,325.63 151.2,301.87 151.37,312.32 151.53,328.78 151.7,298.4 151.87,378.92 152.04,289.95 152.21,321.95 152.37,328.26 152.54,342.54 152.71,322.47 152.88,323.02 153.04,323.51 153.21,339.75 153.38,308.6 153.55,308.67 153.72,315.25 153.88,334.12 154.05,309.66 154.22,392 154.39,326.01 154.56,314.06 154.72,308.54 154.89,307.4 155.06,310.72 155.23,315.43 155.39,341.2 155.56,362.06 155.73,336.93 155.9,323.66 156.07,258.24 156.23,328.17 156.4,371.51 156.57,263 156.74,252.27 156.9,318.59 157.07,319.42 157.24,379.81 157.41,323.64 157.58,290.44 157.74,298.46 157.91,330.19 158.08,321.25 158.25,311.28 158.41,319.63 158.58,342.45 158.75,355.29 158.92,281.51 159.09,299.36 159.25,328.03 159.42,322.32 159.59,317.1 159.76,347.38 159.92,320.38 160.09,326.76 160.26,340.14 160.43,302.19 160.6,320.28 160.76,322.61 160.93,305.48 161.1,319.71 161.27,273.37 161.43,289.35 161.6,295.5 161.77,383.86 161.94,369.59 162.11,323.83 162.27,337 162.44,326.72 162.61,355.24 162.78,277.17 162.95,317.01 163.11,386.52 163.28,344.07 163.45,330.21 163.62,327.71 163.78,341.13 163.95,298.72 164.12,307.16 164.29,314.16 164.46,302.13 164.62,302.1 164.79,326.51 164.96,309.47 165.13,237.3 165.29,317.47 165.46,341.28 165.63,315.47 165.8,303.34 165.97,308.1 166.13,326.66 166.3,309.37 166.47,229.8 166.64,292.54 166.8,312.24 166.97,287.97 167.14,341.11 167.31,326.1 167.48,313.73 167.64,291.2 167.81,321.97 167.98,296.6 168.15,278.34 168.31,302.28 168.48,320.16 168.65,310.65 168.82,328.46 168.99,307.34 169.15,320.1 169.32,302.15 169.49,305.07 169.66,296.29 169.82,321.33 169.99,329.17 170.16,246 170.33,345.26 170.5,304.01 170.66,255.59 170.83,338.03 171,265.03 171.17,395.6 171.34,290.6 171.5,344.17 171.67,328.98 171.84,287.5 172.01,300.12 172.17,303.97 172.34,285.95 172.51,313.8 172.68,310.09 172.85,327.89 173.01,328.55 173.18,312.31 173.35,279.47 173.52,259.15 173.68,333.13 173.85,306 174.02,324.14 174.19,308.12 174.36,353.39 174.52,306.73 174.69,288.75 174.86,281.35 175.03,262.4 175.19,301.38 175.36,307.65 175.53,299.48 175.7,281.45 175.87,293.67 176.03,301.87 176.2,306.64 176.37,300.28 176.54,312.25 176.7,314.24 176.87,293.18 177.04,320.41 177.21,341.88 177.38,269.46 177.54,337.46 177.71,328.63 177.88,326.7 178.05,318.12 178.21,310.27 178.38,260.35 178.55,291.81 178.72,294.5 178.89,279.36 179.05,293.36 179.22,364.08 179.39,311.97 179.56,292.85 179.73,307.92 179.89,320.04 180.06,305.21 180.23,293.52 180.4,307.75 180.56,293.89 180.73,299.06 180.9,321.8 181.07,323.99 181.24,303.73 181.4,330.78 181.57,313.14 181.74,290.98 181.91,312.67 182.07,353.62 182.24,301.13 182.41,300.39 182.58,335.49 182.75,334.04 182.91,335.43 183.08,332.09 183.25,316.81 183.42,321.07 183.58,359.89 183.75,320.84 183.92,360.88 184.09,332.78 184.26,304.55 184.42,333.56 184.59,316.43 184.76,316.37 184.93,264.2 185.09,322.79 185.26,318.48 185.43,308.45 185.6,351.52 185.77,287.5 185.93,294.15 186.1,417.1 186.27,335.48 186.44,323.59 186.6,317.73 186.77,311.75 186.94,308.65 187.11,302.74 187.28,323.05 187.44,324.6 187.61,321.09 187.78,315.77 187.95,304.68 188.12,317.15 188.28,308.24 188.45,373.62 188.62,287.45 188.79,246 188.95,329.83 189.12,322.51 189.29,302.13 189.46,296 189.63,305.74 189.79,306.73 189.96,376.99 190.13,323.3 190.3,316.71 190.46,284.67 190.63,331.48 190.8,334.95 190.97,345.23 191.14,289.32 191.3,292.52 191.47,320.37 191.64,312.09 191.81,309.26 191.97,302.57 192.14,335.61 192.31,318.77 192.48,313.11 192.65,306.48 192.81,308.78 192.98,317.11 193.15,254.38 193.32,310.92 193.48,293.1 193.65,301.67 193.82,301.27 193.99,367.91 194.16,292.94 194.32,315.74 194.49,303.97 194.66,310.11 194.83,261.65 194.99,305.62 195.16,338.8 195.33,330.55 195.5,312.37 195.67,334.19 195.83,364.34 196,323.56 196.17,306.32 196.34,303.43 196.51,329.57 196.67,264.4 196.84,310.59 197.01,334.61 197.18,326.52 197.34,284.15 197.51,324.25 197.68,304.11 197.85,305.35 198.02,305.03 198.18,322.9 198.35,308.26 198.52,307.6 198.69,277.61 198.85,298.44 199.02,346.65 199.19,317.01 199.36,336.74 199.53,313.23 199.69,345.77 199.86,303.96 200.03,289.45 200.2,322.02 200.36,306.08 200.53,320.49 200.7,319.97 200.87,316.63 201.04,306.5 201.2,308.1 201.37,360.45 201.54,308.41 201.71,273.51 201.87,323.65 202.04,344.43 202.21,283.79 202.38,298.41 202.55,330.31 202.71,309.3 202.88,301.13 203.05,313.96 203.22,306.01 203.38,302.06 203.55,333.62 203.72,300.09 203.89,312.92 204.06,302.22 204.22,330.08 204.39,303.65 204.56,366.34 204.73,308.33 204.9,265.03 205.06,230.2 205.23,301.21 205.4,299.97 205.57,301.15 205.73,297.36 205.9,326 206.07,324.16 206.24,321.51 206.41,298.09 206.57,295.26 206.74,367.7 206.91,343.54 207.08,334.95 207.24,351.73 207.41,262.46 207.58,301.91 207.75,285.28 207.92,297.22 208.08,288.87 208.25,340.79 208.42,351.24 208.59,265.11 208.75,359.58 208.92,318.74 209.09,312.29 209.26,320.55 209.43,305.83 209.59,324.26 209.76,328.29 209.93,337.42 210.1,288.76 210.26,305.55 210.43,334.76 210.6,280.15 210.77,345.22 210.94,306.39 211.1,276.87 211.27,315.98 211.44,292.33 211.61,309.89 211.77,329.03 211.94,309.25 212.11,340.51 212.28,347.04 212.45,344.12 212.61,389.06 212.78,331.74 212.95,332.28 213.12,292.58 213.28,314.9 213.45,265.87 213.62,318.16 213.79,327.6 213.96,318.32 214.12,332.85 214.29,325.88 214.46,318.79 214.63,303.04 214.8,302.76 214.96,283.77 215.13,276.49 215.3,336.77 215.47,296.84 215.63,259.52 215.8,311.45 215.97,283.65 216.14,252.35 216.31,313.69 216.47,307.51 216.64,313.08 216.81,307.61 216.98,302.93 217.14,292.9 217.31,309.88 217.48,308.32 217.65,337.63 217.82,305.15 217.98,305.7 218.15,311.55 218.32,269.49 218.49,285.51 218.65,298.73 218.82,312.27 218.99,326.24 219.16,318.38 219.33,303.55 219.49,318.6 219.66,280.09 219.83,307.25 220,312.43 220.16,340.78 220.33,296.57 220.5,285.13 220.67,311.04 220.84,236.9 221,322.94 221.17,307.55 221.34,323.24 221.51,306.12 221.68,311.07 221.84,294.92 222.01,303.57 222.18,327.74 222.35,309.15 222.51,305.78 222.68,338.53 222.85,341.48 223.02,377.54 223.19,281.42 223.35,326.85 223.52,304.25 223.69,310.55 223.86,315.22 224.02,302.19 224.19,271.31 224.36,316.2 224.53,315.64 224.7,321.36 224.86,339.54 225.03,315.24 225.2,314.22 225.37,284.01 225.53,296.62 225.7,316.35 225.87,320.23 226.04,312.81 226.21,273.05 226.37,283.23 226.54,350.2 226.71,323.52 226.88,304.29 227.04,297.65 227.21,309.33 227.38,332.37 227.55,311.14 227.72,319.47 227.88,315.19 228.05,333.89 228.22,308.65 228.39,297.75 228.55,272.58 228.72,303.72 228.89,317.88 229.06,295.91 229.23,319.92 229.39,258.58 229.56,331.96 229.73,291.45 229.9,297.08 230.06,311.3 230.23,342.62 230.4,317.02 230.57,322.97 230.74,336.76 230.9,361.32 231.07,327.75 231.24,384.94 231.41,294.37 231.58,295.07 231.74,323.82 231.91,299.48 232.08,277.86 232.25,308.22 232.41,301.66 232.58,309.47 232.75,282.75 232.92,330.91 233.09,342.17 233.25,310.91 233.42,296.4 233.59,290.19 233.76,315.7 233.92,294.69 234.09,308.32 234.26,301.37 234.43,327.71 234.6,320.31 234.76,267.19 234.93,313.31 235.1,283.64 235.27,318.46 235.43,368.44 235.6,313.07 235.77,304.24 235.94,319.22 236.11,285.68 236.27,302.09 236.44,301.04 236.61,381.71 236.78,296.53 236.94,283.04 237.11,281.16 237.28,321.84 237.45,348.03 237.62,307.64 237.78,278.32 237.95,324.41 238.12,296.77 238.29,302.16 238.46,310.51 238.62,306.8 238.79,325.42 238.96,290.65 239.13,300.26 239.29,268.79 239.46,285.03 239.63,378.27 239.8,266.1 239.97,274.85 240.13,276.66 240.3,294.3 240.47,320.58 240.64,333.09 240.8,288.3 240.97,302.32 241.14,312.19 241.31,295.31 241.48,314.76 241.64,265.79 241.81,295.59 241.98,292.47 242.15,307.59 242.31,312.92 242.48,312.37 242.65,280.98 242.82,293.78 242.99,300.82 243.15,319.57 243.32,310.23 243.49,360.75 243.66,271.75 243.82,296.6 243.99,289.48 244.16,323.38 244.33,284.67 244.5,310.82 244.66,211.7 244.83,277.36 245,292.48 245.17,322.62 245.33,255.51 245.5,308.68 245.67,286.58 245.84,281.72 246.01,295.23 246.17,280.89 246.34,306.11 246.51,301.01 246.68,329.78 246.84,323.47 247.01,289.53 247.18,293.9 247.35,291.87 247.52,310.91 247.68,288.21 247.85,309.17 248.02,316.48 248.19,278.52 248.36,286.16 248.52,317.58 248.69,290.71 248.86,308.38 249.03,271.27 249.19,306.9 249.36,334.8 249.53,277.43 249.7,290.34 249.87,247.2 250.03,323.06 250.2,295.53 250.37,296.29 250.54,293.68 250.7,316.2 250.87,300.96 251.04,246.75 251.21,335.44 251.38,305.69 251.54,317.9 251.71,314.51 251.88,300.46 252.05,311.09 252.21,290.63 252.38,305.3 252.55,278.77 252.72,290.1 252.89,285.24 253.05,320.92 253.22,353.97 253.39,315.43 253.56,300.4 253.72,295.11 253.89,304.54 254.06,297.93 254.23,293.84 254.4,317.05 254.56,320.8 254.73,324.15 254.9,303.71 255.07,305.21 255.24,289.95 255.4,294.59 255.57,278.59 255.74,274.96 255.91,341.19 256.07,299.73 256.24,286.29 256.41,314.55 256.58,292.35 256.75,361.9 256.91,317.45 257.08,245.19 257.25,307.53 257.42,309.96 257.58,295.28 257.75,287.12 257.92,369.64 258.09,296.57 258.26,317.68 258.42,268.44 258.59,286.67 258.76,296.53 258.93,264.71 259.09,307.98 259.26,297.92 259.43,293.62 259.6,308.31 259.77,331.96 259.93,283.47 260.1,309.5 260.27,296.66 260.44,296.02 260.6,295.16 260.77,292.36 260.94,320.94 261.11,298.65 261.28,306.73 261.44,302.18 261.61,292.21 261.78,322.11 261.95,269.22 262.11,231.9 262.28,292.47 262.45,321.73 262.62,332.04 262.79,300.64 262.95,354.95 263.12,317.98 263.29,287.06 263.46,327.8 263.62,286.27 263.79,279.16 263.96,284.74 264.13,309.92 264.3,272.98 264.46,293.67 264.63,331.23 264.8,304.12 264.97,290.96 265.14,278.78 265.3,312.15 265.47,281.18 265.64,286.46 265.81,305.45 265.97,334.88 266.14,299.91 266.31,303.94 266.48,342.16 266.65,291.55 266.81,330.54 266.98,345.23 267.15,358.23 267.32,261.83 267.48,338.54 267.65,318.97 267.82,298.37 267.99,296.56 268.16,300.28 268.32,300.31 268.49,296.06 268.66,295.43 268.83,322.74 268.99,316.57 269.16,361 269.33,309.24 269.5,293.46 269.67,324.37 269.83,339.61 270,303.64 270.17,244.78 270.34,314.44 270.5,288.53 270.67,331 270.84,323.51 271.01,305.02 271.18,380.6 271.34,283.35 271.51,251 271.68,289.4 271.85,357.87 272.01,317.51 272.18,326.91 272.35,295.71 272.52,344.22 272.69,322.36 272.85,337.49 273.02,299.14 273.19,272.3 273.36,294.71 273.53,328.62 273.69,275.51 273.86,313.84 274.03,320.8 274.2,343.92 274.36,329.92 274.53,269.3 274.7,314.22 274.87,315.16 275.04,324.41 275.2,321.48 275.37,307.72 275.54,327.01 275.71,298.3 275.87,315.01 276.04,311.27 276.21,321.8 276.38,325.14 276.55,311.4 276.71,326.96 276.88,289.02 277.05,265.32 277.22,309.98 277.38,339.61 277.55,300.76 277.72,297.51 277.89,233.5 278.06,321.11 278.22,302.01 278.39,342.75 278.56,319.48 278.73,346.87 278.89,301.78 279.06,306.6 279.23,324.28 279.4,325.09 279.57,305.31 279.73,297.17 279.9,337.97 280.07,322.33 280.24,309.28 280.4,314.27 280.57,306.14 280.74,322.8 280.91,302.61 281.08,328.88 281.24,301.23 281.41,324.54 281.58,294.23 281.75,272.4 281.92,340.42 282.08,331.98 282.25,332.71 282.42,292.84 282.59,306.04 282.75,323.68 282.92,310.94 283.09,322.57 283.26,380.36 283.43,311.2 283.59,312.97 283.76,296.97 283.93,321.86 284.1,333.06 284.26,335.33 284.43,306.3 284.6,282.29 284.77,305.25 284.94,346.38 285.1,289.4 285.27,324.99 285.44,321.61 285.61,309.69 285.77,350.17 285.94,320.56 286.11,291.78 286.28,302.16 286.45,320.45 286.61,314.5 286.78,304.58 286.95,294.99 287.12,328.64 287.28,347.87 287.45,334.63 287.62,316.72 287.79,326.72 287.96,327.35 288.12,353.94 288.29,328.12 288.46,294.15 288.63,306.28 288.8,325.13 288.96,311.07 289.13,310.91 289.3,313.57 289.47,276.76 289.63,302.59 289.8,348.5 289.97,328.46 290.14,316.73 290.31,301.53 290.47,318.56 290.64,299.45 290.81,299.94 290.98,324 291.14,328.32 291.31,324.89 291.48,318.91 291.65,320.91 291.82,315.44 291.98,273.06 292.15,322.11 292.32,297.25 292.49,306.35 292.65,316.49 292.82,314.33 292.99,308.91 293.16,265.58 293.33,331.72 293.49,310.21 293.66,321.7 293.83,368.25 294,319.61 294.16,317.17 294.33,289.62 294.5,302.17 294.67,317.03 294.84,305.48 295,310.15 295.17,305.05 295.34,305.9 295.51,316.04 295.67,310.7 295.84,304.35 296.01,283.46 296.18,304.31 296.35,315.78 296.51,301.44 296.68,312.69 296.85,273.08 297.02,349.53 297.19,339.69 297.35,305.67 297.52,342.6 297.69,309.01 297.86,310.4 298.02,295.8 298.19,298.51 298.36,330.38 298.53,312.46 298.7,303.27 298.86,323.05 299.03,298.08 299.2,338.77 299.37,323.73 299.53,303.21 299.7,229.2 299.87,321.93 300.04,310.87 300.21,350.7 300.37,263.88 300.54,254.53 300.71,317.3 300.88,305.06 301.04,305.88 301.21,320.08 301.38,311.59 301.55,376.35 301.72,320.25 301.88,284.02 302.05,375.53 302.22,328.44 302.39,266.89 302.55,330.93 302.72,284.89 302.89,322.81 303.06,342.85 303.23,302.08 303.39,322.1 303.56,310.17 303.73,348.94 303.9,337.8 304.06,288.13 304.23,301.35 304.4,306.09 304.57,303 304.74,326.57 304.9,331.97 305.07,311.3 305.24,294.28 305.41,319.63 305.57,301.76 305.74,367.93 305.91,297.84 306.08,327.34 306.25,302.55 306.41,342.08 306.58,300.8 306.75,314.93 306.92,309.89 307.09,342.47 307.25,301.44 307.42,340.95 307.59,316.02 307.76,374.04 307.92,332.29 308.09,334.66 308.26,389.13 308.43,314.91 308.6,365.13 308.76,331.9 308.93,331.41 309.1,326.69 309.27,309.65 309.43,318.69 309.6,281.3 309.77,298.25 309.94,301.27 310.11,322.05 310.27,308.22 310.44,262.59 310.61,320.43 310.78,321.27 310.94,323.68 311.11,318.97 311.28,319.71 311.45,309.78 311.62,314.78 311.78,325.42 311.95,311.02 312.12,333.95 312.29,320.61 312.45,307.18 312.62,326.43 312.79,330.37 312.96,317.04 313.13,305.51 313.29,292.12 313.46,330.42 313.63,336.45 313.8,308.97 313.96,340.92 314.13,328.27 314.3,327.98 314.47,315.06 314.64,310.29 314.8,314.79 314.97,319 315.14,240.63 315.31,337.55 315.48,330.33 315.64,325.2 315.81,322.4 315.98,334.18 316.15,306.22 316.31,316.54 316.48,377.63 316.65,327.17 316.82,312.75 316.99,342.4 317.15,316.01 317.32,339.66 317.49,352.46 317.66,325.79 317.82,318.88 317.99,320.95 318.16,306.14 318.33,307.39 318.5,296.45 318.66,322.76 318.83,320.14 319,301.59 319.17,307.94 319.33,315.56 319.5,348.25 319.67,332.83 319.84,329.04 320.01,322.67 320.17,334.06 320.34,322.91 320.51,327.1 320.68,308.9 320.84,329.88 321.01,323.75 321.18,345.85 321.35,281.86 321.52,311.95 321.68,268.06 321.85,323.98 322.02,327.32 322.19,390.86 322.35,347.36 322.52,299.87 322.69,332.67 322.86,309.24 323.03,342.31 323.19,299.82 323.36,309.09 323.53,334.6 323.7,305.56 323.87,317.06 324.03,289.29 324.2,328.97 324.37,337.22 324.54,321.69 324.7,258.27 324.87,333.95 325.04,357.25 325.21,354.56 325.38,306.74 325.54,430 325.71,329.12 325.88,349.87 326.05,318.17 326.21,325.56 326.38,346.53 326.55,370.05 326.72,348.33 326.89,308.2 327.05,354.59 327.22,343.91 327.39,337.75 327.56,333.71 327.72,367.95 327.89,303.15 328.06,319.5 328.23,311.02 328.4,359.86 328.56,343.51 328.73,319.98 328.9,331.9 329.07,322.31 329.23,323.4 329.4,328.83 329.57,355.38 329.74,316.6 329.91,296.25 330.07,362.18 330.24,311.57 330.41,318.1 330.58,353.51 330.75,347.12 330.91,332.94 331.08,303.64 331.25,307.83 331.42,340.97 331.58,321.38 331.75,304.38 331.92,300.46 332.09,351.24 332.26,323.47 332.42,297.85 332.59,305.69 332.76,290.5 332.93,328.77 333.09,304.71 333.26,333.03 333.43,316.87 333.6,377.74 333.77,304.54 333.93,324.55 334.1,324 334.27,306.47 334.44,292.5 334.6,313.77 334.77,343.79 334.94,311 335.11,316.53 335.28,364.97 335.44,302.94 335.61,344.72 335.78,292.68 335.95,300.48 336.11,360.24 336.28,335.18 336.45,318.17 336.62,307.9 336.79,310 336.95,311.24 337.12,311 337.29,357.69 337.46,301.23 337.62,233.5 337.79,289.07 337.96,306.75 338.13,346.15 338.3,312.74 338.46,321.74 338.63,308.33 338.8,389.17 338.97,367.79 339.13,312.81 339.3,313.21 339.47,366.28 339.64,295.11 339.81,336.28 339.97,323.77 340.14,333.79 340.31,287.94 340.48,309.92 340.65,301.29 340.81,298.54 340.98,338.36 341.15,341.5 341.32,305.71 341.48,315.09 341.65,315.68 341.82,334.96 341.99,309.46 342.16,365.2 342.32,321.79 342.49,312.54 342.66,342.34 342.83,359.56 342.99,319.21 343.16,328.64 343.33,312.44 343.5,319.45 343.67,318.87 343.83,338.99 344,335.33 344.17,329.14 344.34,264.14 344.5,310.54 344.67,331.16 344.84,322.22 345.01,314.67 345.18,322.18 345.34,330.33 345.51,335.85 345.68,302 345.85,281.42 346.01,333.86 346.18,324.4 346.35,331.46 346.52,309.02 346.69,338.29 346.85,319.81 347.02,341.4 347.19,300.85 347.36,289.12 347.52,321.35 347.69,306.48 347.86,283.21 348.03,388.25 348.2,308.97 348.36,329.78 348.53,319.87 348.7,321.2 348.87,324.31 349.04,338.15 349.2,301.77 349.37,308.29 349.54,305.18 349.71,304.64 349.87,300.3 350.04,314.47 350.21,329.49 350.38,360.42 350.55,305 350.71,346.1 350.88,307.01 351.05,324.95 351.22,356.29 351.38,278.83 351.55,340.79 351.72,348.75 351.89,293.04 352.06,333.12 352.22,317.1 352.39,280.98 352.56,289.61 352.73,310.18 352.89,320.62 353.06,262.13 353.23,336.84 353.4,307.6 353.57,334.13 353.73,309.46 353.9,306.93 354.07,330.53 354.24,331.01 354.4,341.99 354.57,345.13 354.74,315.52 354.91,316.56 355.08,305.42 355.24,313.13 355.41,336.74 355.58,339.44 355.75,314.6 355.91,308.5 356.08,295.38 356.25,372.09 356.42,333.83 356.59,325.15 356.75,326.38 356.92,327.13 357.09,262.07 357.26,303.34 357.43,300.58 357.59,317.59 357.76,364.4 357.93,308.94 358.1,373.69 358.26,311.37 358.43,322.98 358.6,343.11 358.77,326.23 358.94,332.85 359.1,326.98 359.27,314.16 359.44,339.71 359.61,301.25 359.77,345.62 359.94,318.19 360.11,290.73 360.28,360.59 360.45,342.45 360.61,281.06 360.78,299.71 360.95,338.85 361.12,306.71 361.28,324.82 361.45,309.39 361.62,310.16 361.79,338.91 361.96,286.42 362.12,319.25 362.29,331.43 362.46,312.03 362.63,334.9 362.79,351.57 362.96,337.93 363.13,346.85 363.3,307.43 363.47,334.42 363.63,324.13 363.8,318.46 363.97,348.7 364.14,324.98 364.31,324.88 364.47,342.47 364.64,326.63 364.81,319.12 364.98,279.32 365.14,330.08 365.31,331.15 365.48,330.27 365.65,309.31 365.82,311.51 365.98,312.12 366.15,316.16 366.32,323.08 366.49,326.82 366.65,293.59 366.82,346.74 366.99,293.74 367.16,326.94 367.33,340.02 367.49,383.45 367.66,336.17 367.83,329.64 368,325.21 368.16,321.22 368.33,332.21 368.5,335.15 368.67,324.88 368.84,305.29 369,321.94 369.17,380.07 369.34,316.51 369.51,334.22 369.67,327.85 369.84,329.35 370.01,353.37 370.18,313.83 370.35,356.22 370.51,305.76 370.68,336.73 370.85,379.73 371.02,325.7 371.18,323.35 371.35,317.32 371.52,352.14 371.69,324.24 371.86,317.45 372.02,345.1 372.19,299.71 372.36,320.32 372.53,340.83 372.69,333.78 372.86,333.88 373.03,343.79 373.2,336.47 373.37,328.64 373.53,366.35 373.7,339.61 373.87,317.88 374.04,312 374.21,330.65 374.37,326.13 374.54,362.41 374.71,358.01 374.88,267.84 375.04,340.27 375.21,346.17 375.38,352.35 375.55,332.86 375.72,326.99 375.88,337.17 376.05,319.69 376.22,349.46 376.39,326.01 376.55,322.77 376.72,312.57 376.89,330.12 377.06,328.73 377.23,339.49 377.39,324.94 377.56,325.33 377.73,350.45 377.9,279.86 378.06,342.79 378.23,341.28 378.4,307.7 378.57,331.85 378.74,350.9 378.9,303.32 379.07,321.19 379.24,338.11 379.41,356.33 379.57,308.7 379.74,326.73 379.91,347.64 380.08,290.63 380.25,341.02 380.41,335.33 380.58,374.21 380.75,314.87 380.92,345.03 381.08,328.65 381.25,333.06 381.42,307.84 381.59,370.06 381.76,346.96 381.92,379.63 382.09,341.05 382.26,337.49 382.43,333.43 382.6,336.78 382.76,359.53 382.93,353.22 383.1,346.55 383.27,271.04 383.43,341.19 383.6,315.41 383.77,357.08 383.94,338.74 384.11,314.03 384.27,339.93 384.44,310.2 384.61,349.88 384.78,362.59 384.94,332.04 385.11,323.78 385.28,325.21 385.45,334.66 385.62,355.04 385.78,324.33 385.95,346.4 386.12,344.18 386.29,312.34 386.45,315.06 386.62,343.31 386.79,342.89 386.96,311.63 387.13,313.53 387.29,352.24 387.46,317.46 387.63,343.55 387.8,346.19 387.96,334.9 388.13,355.2 388.3,358.68 388.47,333.56 388.64,337 388.8,307.26 388.97,367.94 389.14,338.82 389.31,325.97 389.47,301.89 389.64,346.21 389.81,323.6 389.98,315.97 390.15,289.99 390.31,324.41 390.48,356.25 390.65,324.81 390.82,339.43 390.99,345.37 391.15,355.84 391.32,318.25 391.49,324.14 391.66,336.17 391.82,345.7 391.99,296.02 392.16,320.44 392.33,337.04 392.5,333.73 392.66,353.18 392.83,332.91 393,318.92 393.17,327.4 393.33,323.77 393.5,350.1 393.67,324.82 393.84,344.68 394.01,389.6 394.17,324.31 394.34,343.46 394.51,320.47 394.68,338 394.84,330.37 395.01,318.69 395.18,326.17 395.35,306.45 395.52,316.91 395.68,360.55 395.85,324.25 396.02,380.88 396.19,348.14 396.35,341.19 396.52,328.43 396.69,327.94 396.86,305.17 397.03,323.93 397.19,332.63 397.36,347.25 397.53,336.63 397.7,353.11 397.87,346.39 398.03,341.13 398.2,326.63 398.37,281.73 398.54,349.14 398.7,363.97 398.87,341.58 399.04,337.33 399.21,338.71 399.38,340.8 399.54,363.35 399.71,369.32 399.88,317.11 400.05,334.7 400.21,351.73 400.38,322.09 400.55,292.5 400.72,355.23 400.89,321.75 401.05,333.59 401.22,315.7 401.39,310.29 401.56,323.63 401.72,331.36 401.89,343.67 402.06,330.88 402.23,362.44 402.4,335.3 402.56,338.76 402.73,330.15 402.9,315.64 403.07,323.72 403.23,326.19 403.4,328.27 403.57,323.71 403.74,330.03 403.91,333.69 404.07,336.75 404.24,347.6 404.41,353.93 404.58,336.77 404.74,313.91 404.91,319.76 405.08,378.7 405.25,337.46 405.42,359.17 405.58,317.39 405.75,337.99 405.92,359.36 406.09,331.84 406.25,332.79 406.42,353.46 406.59,336.81 406.76,340.67 406.93,335.67 407.09,333.57 407.26,299.23 407.43,339.25 407.6,350.5 407.77,362.83 407.93,336 408.1,331.94 408.27,308.84 408.44,351.3 408.6,341.63 408.77,279.79 408.94,335.21 409.11,317.62 409.28,341.62 409.44,333.25 409.61,338.77 409.78,338.25 409.95,346.05 410.11,345.63 410.28,335.58 410.45,323.11 410.62,356.01 410.79,293.94 410.95,352.59 411.12,344.92 411.29,352.23 411.46,345.63 411.62,343.08 411.79,349.78 411.96,360.21 412.13,317.36 412.3,327.39 412.46,321.37 412.63,360.82 412.8,341.96 412.97,349.24 413.13,325.19 413.3,297.42 413.47,302.26 413.64,332.46 413.81,340.85 413.97,281.64 414.14,335.12 414.31,354.69 414.48,342.73 414.64,296.48 414.81,359.12 414.98,319.74 415.15,355.27 415.32,348.62 415.48,355.28 415.65,320.65 415.82,346.94 415.99,344.51 416.16,337.72 416.32,341.62 416.49,339.41 416.66,368.3 416.83,329.39 416.99,357.38 417.16,319.51 417.33,335.1 417.5,290.76 417.67,328.39 417.83,379.3 418,318.77 418.17,339.5 418.34,394.6 418.5,387.13 418.67,353.47 418.84,347.59 419.01,297.15 419.18,358.34 419.34,343.13 419.51,342.83 419.68,302.78 419.85,369.3 420.01,338.06 420.18,337.17 420.35,332.86 420.52,325.53 420.69,361.01 420.85,304.17 421.02,360.53 421.19,352.57 421.36,325.34 421.52,301.32 421.69,373 421.86,357.39 422.03,361.45 422.2,356.45 422.36,360.54 422.53,331.71 422.7,325.18 422.87,356.93 423.03,321.61 423.2,350.01 423.37,303.59 423.54,341.15 423.71,339.75 423.87,373.75 424.04,341.03 424.21,336.75 424.38,337.53 424.55,381.51 424.71,359.49 424.88,341.2 425.05,317.96 425.22,382.88 425.38,333.64 425.55,368.94 425.72,339.53 425.89,324.12 426.06,324.59 426.22,313.57 426.39,330.01 426.56,333.26 426.73,339.84 426.89,259.49 427.06,287 427.23,317.26 427.4,330.53 427.57,357.24 427.73,315.18 427.9,326.09 428.07,352.79 428.24,360.1 428.4,302.29 428.57,353.02 428.74,329.18 428.91,331.63 429.08,332.68 429.24,362.55 429.41,333.1 429.58,315.3 429.75,313.78 429.91,348.19 430.08,312.08 430.25,331.91 430.42,259.17 430.59,328.66 430.75,324.73 430.92,305.42 431.09,345.75 431.26,318.29 431.43,293.2 431.59,308.91 431.76,295.21 431.93,327.93 432.1,338.26 432.26,328.1 432.43,320.74 432.6,289.19 432.77,334.37 432.94,326.76 433.1,314.3 433.27,316.22 433.44,338.88 433.61,247 433.77,345.65 433.94,335.56 434.11,355.19 434.28,330.49 434.45,354.26 434.61,274.01 434.78,322.21 434.95,347.52 435.12,298.86 435.28,358 435.45,344.92 435.62,339.08 435.79,325.5 435.96,296.89 436.12,324.51 436.29,376.6 436.46,376.69 436.63,339.04 436.79,323.59 436.96,328.38 437.13,324.08 437.3,325.92 437.47,313.38 437.63,332.8 437.8,329.35 437.97,332.71 438.14,334.68 438.3,306.51 438.47,304.88 438.64,274.21 438.81,295.23 438.98,310.94 439.14,362.48 439.31,375.14 439.48,335.85 439.65,332.89 439.81,322.18 439.98,337.49 440.15,309.18 440.32,333.54 440.49,323.37 440.65,300.37 440.82,321.48 440.99,356.71 441.16,329.13 441.33,312.24 441.49,324.43 441.66,340.44 441.83,360.49 442,334.97 442.16,331.47 442.33,305.15 442.5,252.97 442.67,330.67 442.84,348.1 443,338.37 443.17,338.83 443.34,330.68 443.51,308.4 443.67,272.53 443.84,356.72 444.01,323.51 444.18,355.14 444.35,313.86 444.51,318.42 444.68,353.63 444.85,349.1 445.02,329.71 445.18,341.51 445.35,337.8 445.52,299.01 445.69,357.65 445.86,326.18 446.02,312.26 446.19,330.45 446.36,314.39 446.53,332.82 446.69,299.58 446.86,334.57 447.03,319.3 447.2,301 447.37,345.82 447.53,313.44 447.7,283.11 447.87,320.6 448.04,330.08 448.2,315.45 448.37,335.73 448.54,328.33 448.71,324.71 448.88,270.29 449.04,318.65 449.21,351.04 449.38,293.41 449.55,321.16 449.72,332.39 449.88,308.07 450.05,363.85 450.22,338.4 450.39,334.38 450.55,287.9 450.72,332.06 450.89,296.34 451.06,320.95 451.23,324.28 451.39,327.58 451.56,312.88 451.73,328.35 451.9,322.37 452.06,341.39 452.23,353.13 452.4,399.82 452.57,303.46 452.74,325.51 452.9,310.17 453.07,356.08 453.24,305.5 453.41,275.86 453.57,304.43 453.74,381.82 453.91,313.8 454.08,265.71 454.25,356.45 454.41,325.76 454.58,406.7 454.75,238.6 454.92,323.82 455.08,266.81 455.25,330.78 455.42,355.2 455.59,298.03 455.76,343.64 455.92,339.09 456.09,360.76 456.26,309.64 456.43,297.48 456.59,327.93 456.76,323.17 456.93,340.67 457.1,317.89 457.27,319.97 457.43,335.6 457.6,324.32 457.77,326.14 457.94,343.93 458.11,332.66 458.27,324.99 458.44,318.34 458.61,352.01 458.78,342.35 458.94,339.76 459.11,327.9 459.28,332.89 459.45,330.6 459.62,342.19 459.78,344.03 459.95,335.63 460.12,334.83 460.29,312.33 460.45,330.5 460.62,346.83 460.79,318.88 460.96,290.85 461.13,319.18 461.29,341.92 461.46,309.78 461.63,271.6 461.8,362.05 461.96,340.98 462.13,335.46 462.3,323.5 462.47,326.12 462.64,356.05 462.8,346.63 462.97,335.3 463.14,322.51 463.31,389.32 463.47,311.98 463.64,335 463.81,325.91 463.98,343.35 464.15,366.48 464.31,344.98 464.48,320.99 464.65,278.51 464.82,351.18 464.99,338.2 465.15,358.57 465.32,342.71 465.49,350.35 465.66,336.86 465.82,340.28 465.99,322.73 466.16,341.86 466.33,334.25 466.5,359.28 466.66,300.4 466.83,363.26 467,321.28 467.17,339.23 467.33,311.3 467.5,351.83 467.67,313.15 467.84,350.69 468.01,317.51 468.17,335.14 468.34,324.18 468.51,370.24 468.68,336.61 468.84,348.41 469.01,338.02 469.18,298.44 469.35,313.32 469.52,345.14 469.68,344.06 469.85,332.71 470.02,290.43 470.19,334.57 470.35,308.84 470.52,353.72 470.69,279.55 470.86,318.11 471.03,269.47 471.19,337.32 471.36,314.27 471.53,330.77 471.7,331.01 471.86,383.16 472.03,257.97 472.2,305.75 472.37,327.31 472.54,340.71 472.7,368.43 472.87,354.93 473.04,350.47 473.21,333.9 473.38,364.39 473.54,349.6 473.71,346.99 473.88,343.4 474.05,341.6 474.21,339 474.38,355.53 474.55,276.91 474.72,322.83 474.89,358.87 475.05,299.82 475.22,342.04 475.39,333.62 475.56,325.08 475.72,335.2 475.89,316.84 476.06,375.37 476.23,335.13 476.4,335.16 476.56,326.12 476.73,356.79 476.9,334.75 477.07,333.61 477.23,333.29 477.4,329.24 477.57,280.95 477.74,338.9 477.91,378.75 478.07,366.15 478.24,334.92 478.41,350.88 478.58,367.06 478.74,324.61 478.91,346.23 479.08,345.87 479.25,349.34 479.42,326.55 479.58,350.8 479.75,337.52 479.92,338.96 480.09,304.86 480.25,333.45 480.42,340.79 480.59,321.15 480.76,338.92 480.93,332.24 481.09,339.41 481.26,372.07 481.43,358.82 481.6,348.06 481.76,330.06 481.93,325.86 482.1,324.71 482.27,359.91 482.44,365.6 482.6,328.7 482.77,366.4 482.94,325.67 483.11,328.87 483.28,338.99 483.44,350.6 483.61,324.47 483.78,321.58 483.95,335.39 484.11,345.38 484.28,332.45 484.45,324.7 484.62,359.51 484.79,319.16 484.95,339.61 485.12,325.41 485.29,341.88 485.46,354.74 485.62,365.39 485.79,346.04 485.96,367.38 486.13,270.12 486.3,327.48 486.46,340.46 486.63,324.38 486.8,345.9 486.97,363.21 487.13,369.52 487.3,372.44 487.47,312.7 487.64,315.03 487.81,320.33 487.97,334.1 488.14,342.32 488.31,314.48 488.48,316.92 488.64,347.96 488.81,282.83 488.98,354.45 489.15,333.24 489.32,354.29 489.48,343.76 489.65,346.53 489.82,332.62 489.99,343.55 490.15,326.88 490.32,331.34 490.49,332.01 490.66,331.2 490.83,375.26 490.99,331.36 491.16,346.03 491.33,379.94 491.5,333.86 491.67,350.15 491.83,330.12 492,351.8 492.17,286.18 492.34,333.38 492.5,325.6 492.67,338.47 492.84,322.31 493.01,350 493.18,356.07 493.34,325.69 493.51,346.41 493.68,365.14 493.85,332.06 494.01,306.58 494.18,281.44 494.35,341.64 494.52,305.78 494.69,338.78 494.85,326.74 495.02,309.27 495.19,337.31 495.36,321 495.52,361.05 495.69,357.7 495.86,339.38 496.03,331.36 496.2,354.13 496.36,314.32 496.53,347.86 496.7,346.74 496.87,364.5 497.03,312.62 497.2,337.63 497.37,325.64 497.54,382.74 497.71,358.39 497.87,343.69 498.04,352.1 498.21,337.37 498.38,343.23 498.55,364.14 498.71,346.46 498.88,324.79 499.05,314.19 499.22,326.56 499.38,324.98 499.55,323.75 499.72,305.54 499.89,330.57 500.06,351.91 500.22,356.92 500.39,359.09 500.56,392.97 500.73,344.4 500.89,326.87 501.06,341.81 501.23,322.29 501.4,328.51 501.57,345.15 501.73,298.23 501.9,397.24 502.07,336.48 502.24,325.63 502.4,366.67 502.57,316.24 502.74,352.21 502.91,326.6 503.08,339.45 503.24,327.83 503.41,337.69 503.58,342.59 503.75,385.38 503.91,338.41 504.08,346.81 504.25,371.47 504.42,325.22 504.59,337.46 504.75,348.48 504.92,344.7 505.09,341.4 505.26,364.51 505.42,340 505.59,361.21 505.76,341.83 505.93,361.9 506.1,312.51 506.26,345.85 506.43,309.13 506.6,363.83 506.77,345.08 506.94,321.04 507.1,339.7 507.27,377.31 507.44,350.95 507.61,317.72 507.77,349.55 507.94,347.08 508.11,387.3 508.28,291 508.45,331.35 508.61,282.36 508.78,348.07 508.95,364 509.12,331.75 509.28,336.96 509.45,334.99 509.62,333.75 509.79,296.6 509.96,313.18 510.12,335.1 510.29,394.5 510.46,346.51 510.63,315.93 510.79,316.13 510.96,352.66 511.13,335.01 511.3,321.91 511.47,353.67 511.63,388.31 511.8,363.79 511.97,343.06 512.14,344.36 512.3,345.29 512.47,330.65 512.64,337.22 512.81,328.13 512.98,303.87 513.14,321.15 513.31,348.81 513.48,324.14 513.65,363.77 513.81,329.17 513.98,330.16 514.15,330.57 514.32,324.14 514.49,344.25 514.65,295.47 514.82,324.97 514.99,331.87 515.16,317.3 515.33,316.21 515.49,364.21 515.66,335.62 515.83,319.78 516,299.27 516.16,333.52 516.33,314.89 516.5,303.55 516.67,349.31 516.84,340.58 517,299.91 517.17,335 517.34,334.91 517.51,313.32 517.67,299.17 517.84,324.7 518.01,262.18 518.18,316.06 518.35,326.52 518.51,323.26 518.68,310.31 518.85,343.17 519.02,347.84 519.18,338.77 519.35,321.22 519.52,303.28 519.69,330.51 519.86,333.26 520.02,288.06 520.19,324.16 520.36,327.3 520.53,331.95 520.69,307.26 520.86,336.97 521.03,332.79 521.2,299.42 521.37,315.63 521.53,273.97 521.7,350.1 521.87,341.35 522.04,282.4 522.2,339.72 522.37,348.96 522.54,311.79 522.71,318.17 522.88,307.75 523.04,292.63 523.21,304.18 523.38,352.32 523.55,333.51 523.72,337.31 523.88,345.74 524.05,389.7 524.22,337.4 524.39,353.23 524.55,351.59 524.72,319.82 524.89,328.85 525.06,338.85 525.23,326.37 525.39,311.75 525.56,388.61 525.73,321.7 525.9,344.36 526.06,321.44 526.23,342.34 526.4,325.96 526.57,302.62 526.74,321.43 526.9,317.84 527.07,313.15 527.24,306.77 527.41,342.69 527.57,348.08 527.74,306 527.91,342.05 528.08,395.23 528.25,359.61 528.41,298.32 528.58,337.29 528.75,330 528.92,298.44 529.08,340.9 529.25,316.65 529.42,329.96 529.59,338.63 529.76,332.48 529.92,330.85 530.09,311.31 530.26,332.33 530.43,290.49 530.59,319.93 530.76,339.69 530.93,339.94 531.1,350.57 531.27,364.91 531.43,325.71 531.6,349.97 531.77,325.85 531.94,336.98 532.11,325.53 532.27,332.1 532.44,316.09 532.61,337.86 532.78,375.57 532.94,332.29 533.11,341.02 533.28,314.37 533.45,335.45 533.62,339.61 533.78,326.57 533.95,335.89 534.12,365.33 534.29,329.31 534.45,283.82 534.62,344.89 534.79,348.96 534.96,323.11 535.13,342.83 535.29,271.13 535.46,370.73 535.63,350.2 535.8,344.6 535.96,343.82 536.13,357.96 536.3,331.12 536.47,312.4 536.64,290.96 536.8,323.43 536.97,316.33 537.14,329.12 537.31,349.49 537.47,340.89 537.64,351.45 537.81,339.1 537.98,339.14 538.15,335.87 538.31,353.73 538.48,377.94 538.65,337.15 538.82,333.17 538.98,334.57 539.15,330.27 539.32,343.25 539.49,326.48 539.66,360.34 539.82,384.89 539.99,341.97 540.16,344.98 540.33,360.21 540.5,332.19 540.66,350.79 540.83,324.24 541,318.29 541.17,317.35 541.33,321.29 541.5,320.46 541.67,331.77 541.84,322.99 542.01,328.93 542.17,381.39 542.34,328.72 542.51,319.01 542.68,311.68 542.84,335.03 543.01,353.01 543.18,332.47 543.35,336.93 543.52,305.87 543.68,335.34 543.85,339.14 544.02,336.37 544.19,334.62 544.35,338.67 544.52,348.33 544.69,348.7 544.86,313.12 545.03,326.6 545.19,358.52 545.36,321.27 545.53,302.45 545.7,305.72 545.86,308.4 546.03,323.86 546.2,282.79 546.37,337.26 546.54,328.55 546.7,336.41 546.87,339.84 547.04,286 547.21,349.92 547.37,338.15 547.54,340.3 547.71,314.26 547.88,337.98 548.05,343.14 548.21,336.81 548.38,326.17 548.55,329.73 548.72,315.98 548.88,354.33 549.05,351.25 549.22,337.37 549.39,308.33 549.56,352.9 549.72,351.29 549.89,322.61 550.06,348.47 550.23,320.07 550.4,337.35 550.56,346.5 550.73,296.85 550.9,275.09 551.07,319.04 551.23,338.01 551.4,320.93 551.57,320.82 551.74,353.8 551.91,301.25 552.07,352.22 552.24,320.1 552.41,391.28 552.58,337.57 552.74,297.82 552.91,346.41 553.08,325.04 553.25,314.62 553.42,354.46 553.58,331.5 553.75,379.13 553.92,310.63 554.09,323.59 554.25,344.61 554.42,299.32 554.59,373.19 554.76,342.17 554.93,291.26 555.09,246 555.26,327.04 555.43,328.33 555.6,320.2 555.76,314.5 555.93,275.96 556.1,330.47 556.27,325.37 556.44,310.84 556.6,347.67 556.77,337.05 556.94,307.98 557.11,301.86 557.27,302 557.44,380.32 557.61,312.9 557.78,334.56 557.95,331.75 558.11,343.1 558.28,302.5 558.45,315.21 558.62,316.19 558.79,329.45 558.95,325.7 559.12,318.74 559.29,371.12 559.46,302.68 559.62,329.59 559.79,333.16 559.96,325.22 560.13,323.6 560.3,296.1 560.46,314.06 560.63,364.7 560.8,320.17 560.97,325.16 561.13,347.81 561.3,322.92 561.47,353.6 561.64,358.16 561.81,315.04 561.97,329.67 562.14,323.41 562.31,313.23 562.48,340.52 562.64,302.65 562.81,298.51 562.98,317.16 563.15,340.82 563.32,333.16 563.48,333.62 563.65,343.53 563.82,312.44 563.99,311.74 564.15,324.39 564.32,320.04 564.49,334.95 564.66,300.06 564.83,327.28 564.99,296.47 565.16,360.08 565.33,338.88 565.5,330.13 565.66,291.88 565.83,318.05 566,312.54 566.17,328.62 566.34,314.52 566.5,328.1 566.67,333.06 566.84,320.18 567.01,308.9 567.18,320.04 567.34,356.79 567.51,313.23 567.68,295.44 567.85,338.47 568.01,315.85 568.18,334.39 568.35,311.51 568.52,312.18 568.69,266.81 568.85,327.84 569.02,329.96 569.19,358.61 569.36,329.02 569.52,302.03 569.69,318.09 569.86,326.95 570.03,314.75 570.2,298.71 570.36,324.79 570.53,327.65 570.7,323.57 570.87,322.85 571.03,347.48 571.2,321.61 571.37,322.1 571.54,326.4 571.71,345.87 571.87,340.76 572.04,319.63 572.21,313.27 572.38,331.71 572.54,325.13 572.71,335.78 572.88,304.69 573.05,316.27 573.22,332.05 573.38,323.51 573.55,346.27 573.72,344.78 573.89,332.13 574.05,352.18 574.22,301.21 574.39,317.24 574.56,300.14 574.73,327.44 574.89,329.25 575.06,337.43 575.23,319.78 575.4,339.06 575.57,354.95 575.73,334.62 575.9,308.16 576.07,359.98 576.24,304.79 576.4,314.17 576.57,304.25 576.74,316.71 576.91,362.01 577.08,321.71 577.24,316.23 577.41,330.21 577.58,368.09 577.75,308.72 577.91,313.21 578.08,317.92 578.25,348.93 578.42,314.67 578.59,296.71 578.75,287.1 578.92,326.97 579.09,328.67 579.26,319.44 579.42,307.93 579.59,302.9 579.76,309.24 579.93,325.32 580.1,325.4 580.26,350.61 580.43,342.84 580.6,351.27 580.77,326.19 580.93,312.03 581.1,350.21 581.27,316.19 581.44,327.22 581.61,346.32 581.77,308.79 581.94,351.98 582.11,333.03 582.28,348.31 582.44,341.49 582.61,343.78 582.78,324.04 582.95,368.42 583.12,371.29 583.28,319.72 583.45,358.77 583.62,341.47 583.79,375.49 583.96,358.16 584.12,335.95 584.29,337.25 584.46,335.76 584.63,338.5 584.79,379.51 584.96,331.67 585.13,340.66 585.3,364.09 585.47,389.5 585.63,330.08 585.8,339.97 585.97,367.68 586.14,348.64 586.3,338.96 586.47,314.83 586.64,372.48 586.81,304.28 586.98,356.06 587.14,335.3 587.31,357.22 587.48,336.11 587.65,347.56 587.81,339.33 587.98,331.13 588.15,339.74 588.32,333.08 588.49,344.06 588.65,327.94 588.82,335.85 588.99,357.97 589.16,323.37 589.32,353.07 589.49,343.36 589.66,358.73 589.83,375.55 590,328.29 590.16,372.58 590.33,318.71 590.5,346.76 590.67,353.78 590.84,328.2 591,361.34 591.17,348.97 591.34,333.67 591.51,317.75 591.67,303.83 591.84,340.74 592.01,319.78 592.18,339.98 592.35,311.78 592.51,340.19 592.68,336.62 592.85,363.78 593.02,343.84 593.18,337.51 593.35,326.87 593.52,304.04 593.69,332.07 593.86,310.84 594.02,358.34 594.19,336.82 594.36,360.51 594.53,336.27 594.69,323.89 594.86,341.2 595.03,362.25 595.2,336.05 595.37,320.66 595.53,337.07 595.7,342.86 595.87,318.03 596.04,339.6 596.2,320.81 596.37,305.09 596.54,283.94 596.71,291.18 596.88,314.71 597.04,318.21 597.21,348.64 597.38,331.8 597.55,351.34 597.71,320.63 597.88,296.78 598.05,349.64 598.22,341.21 598.39,331.25 598.55,320.18 598.72,320.28 598.89,346.27 599.06,389.01 599.23,265.18 599.39,294.8 599.56,328.91 599.73,324.62 599.9,301.24 600.06,314.62 600.23,351.75 600.4,356.98 600.57,335.24 600.74,286.2 600.9,322.96 601.07,349.85 601.24,316.06 601.41,320.37 601.57,305.01 601.74,297.2 601.91,343.44 602.08,341.16 602.25,338.29 602.41,316.47 602.58,343.52 602.75,328.07 602.92,314.25 603.08,344.48 603.25,318.75 603.42,343.54 603.59,297.12 603.76,326.92 603.92,333.11 604.09,323.43 604.26,348.1 604.43,340.19 604.59,294.08 604.76,322.11 604.93,382.1 605.1,324.23 605.27,345.24 605.43,310.92 605.6,330.34 605.77,337.94 605.94,281.72 606.1,387 606.27,342.31 606.44,335.25 606.61,342.92 606.78,303.88 606.94,346.6 607.11,334.95 607.28,360.79 607.45,337.26 607.62,300.15 607.78,389.51 607.95,316.02 608.12,321.39 608.29,340.83 608.45,371.57 608.62,331.53 608.79,355.58 608.96,368.9 609.13,382.29 609.29,364.07 609.46,366.18 609.63,281.59 609.8,363.65 609.96,334.81 610.13,337.37 610.3,341.16 610.47,336.36 610.64,388.96 610.8,341.22 610.97,348.34 611.14,324.87 611.31,347.98 611.47,357.15 611.64,356.93 611.81,323.14 611.98,356.26 612.15,326.29 612.31,322.97 612.48,339.55 612.65,326.4 612.82,351.58 612.98,331.63 613.15,279.34 613.32,389.67 613.49,290.93 613.66,338.92 613.82,340.91 613.99,294.12 614.16,344.57 614.33,346.49 614.49,320.21 614.66,350.35 614.83,331.58 615,391.95 615.17,332.71 615.33,330.72 615.5,336.95 615.67,357.43 615.84,339.25 616,297.17 616.17,364.83 616.34,374.18 616.51,371.63 616.68,362.41 616.84,325.38 617.01,333.59 617.18,343.77 617.35,349.98 617.52,385.83 617.68,344.31 617.85,341 618.02,360.25 618.19,378.11 618.35,340.26 618.52,348.46 618.69,348.26 618.86,348.45 619.03,326.18 619.19,347.34 619.36,376.33 619.53,335.72 619.7,325.55 619.86,311.13 620.03,342.36 620.2,325.09 620.37,336.73 620.54,383.37 620.7,345.58 620.87,355.27 621.04,340.82 621.21,347.01 621.37,350.37 621.54,337.32 621.71,356.31 621.88,350.42" fill="none" stroke="#98c8f8" stroke-width="0.55" stroke-linejoin="round"/>
</g>
<g transform="rotate(-0.115 330 315)">
<line x1="32.6" y1="312.9" x2="628.5" y2="312.9" stroke="#2a2af0" stroke-width="0.95" stroke-dasharray="2.8,1.7"/>
<line x1="32.6" y1="325" x2="628.5" y2="325" stroke="#f02a3a" stroke-width="0.95" stroke-dasharray="2.8,1.7"/>
<line x1="32.6" y1="336.8" x2="628.5" y2="336.8" stroke="#2a2af0" stroke-width="0.95" stroke-dasharray="2.8,1.7"/>
<line x1="32.6" y1="347" x2="628.5" y2="347" stroke="#f5a060" stroke-width="0.95" stroke-dasharray="2.8,1.7"/>
<rect x="41" y="253.5" width="19.5" height="151" fill="none" stroke="#f59a45" stroke-width="1.1"/>
<rect x="321.4" y="253.5" width="11.6" height="151" fill="none" stroke="#f59a45" stroke-width="1.1"/>
<rect x="375.4" y="253.5" width="5" height="151" fill="none" stroke="#f59a45" stroke-width="1.1"/>
<rect x="402.6" y="253.5" width="19.6" height="151" fill="none" stroke="#f59a45" stroke-width="1.1"/>
<rect x="469.7" y="253.5" width="21.7" height="151" fill="none" stroke="#f59a45" stroke-width="1.1"/>
<rect x="495.2" y="253.5" width="14.6" height="151" fill="none" stroke="#f59a45" stroke-width="1.1"/>
<rect x="531.4" y="253.5" width="8.1" height="151" fill="none" stroke="#f59a45" stroke-width="1.1"/>
<rect x="583.2" y="253.5" width="8.1" height="151" fill="none" stroke="#f59a45" stroke-width="1.1"/>
<rect x="607.2" y="253.5" width="15.2" height="151" fill="none" stroke="#f59a45" stroke-width="1.1"/>
</g>
<text x="50.75" y="420.8" font-size="8.3" text-anchor="middle" fill="#3d5fb5" font-style="italic">1</text>
<text x="327.2" y="420.8" font-size="8.3" text-anchor="middle" fill="#3d5fb5" font-style="italic">2</text>
<text x="377.9" y="420.8" font-size="8.3" text-anchor="middle" fill="#3d5fb5" font-style="italic">3</text>
<text x="412.4" y="420.8" font-size="8.3" text-anchor="middle" fill="#3d5fb5" font-style="italic">4</text>
<text x="480.55" y="420.8" font-size="8.3" text-anchor="middle" fill="#3d5fb5" font-style="italic">5</text>
<text x="502.5" y="420.8" font-size="8.3" text-anchor="middle" fill="#3d5fb5" font-style="italic">6</text>
<text x="535.45" y="420.8" font-size="8.3" text-anchor="middle" fill="#3d5fb5" font-style="italic">7</text>
<text x="587.25" y="420.8" font-size="8.3" text-anchor="middle" fill="#3d5fb5" font-style="italic">8</text>
<text x="614.8" y="420.8" font-size="8.3" text-anchor="middle" fill="#3d5fb5" font-style="italic">9</text>
<clipPath id="redclip"><rect x="0" y="336.8" width="685" height="40" transform="rotate(-0.115 330 315)"/></clipPath>
<path d="M38.1,330.8C38.58,331.78 39.93,334.75 41,336.7C42.07,338.65 43.02,340.62 44.5,342.5C45.98,344.38 48.15,347.5 49.9,348C51.65,348.5 53.28,347.27 55,345.5C56.72,343.73 58.23,340.83 60.2,337.4C62.17,333.97 64.22,328.33 66.8,324.9C69.38,321.47 72.75,317.7 75.7,316.8C78.65,315.9 81.8,318.4 84.5,319.5C87.2,320.6 89.2,321.93 91.9,323.4C94.6,324.87 97.77,328.9 100.7,328.3C103.63,327.7 106.92,322.7 109.5,319.8C112.08,316.9 113.73,310.95 116.2,310.9C118.67,310.85 122.33,318.1 124.3,319.5C126.27,320.9 126.42,319.75 128,319.3C129.58,318.85 130.98,315.98 133.8,316.8C136.62,317.62 141.45,323.33 144.9,324.2C148.35,325.07 151.93,323.23 154.5,322C157.07,320.77 157.85,319.82 160.3,316.8C162.75,313.78 166.37,304.63 169.2,303.9C172.03,303.17 174.85,309.52 177.3,312.4C179.75,315.28 181.08,321.88 183.9,321.2C186.72,320.52 191,309.32 194.2,308.3C197.4,307.28 199.9,314.67 203.1,315.1C206.3,315.53 209.6,312.25 213.4,310.9C217.2,309.55 222.72,307.48 225.9,307C229.08,306.52 229.32,309.23 232.5,308C235.68,306.77 241.2,300.1 245,299.6C248.8,299.1 252.13,305.2 255.3,305C258.47,304.8 261.47,297.82 264,298.4C266.53,298.98 268.47,305.52 270.5,308.5C272.53,311.48 273.95,315.85 276.2,316.3C278.45,316.75 281.28,311.53 284,311.2C286.72,310.87 289.38,313.48 292.5,314.3C295.62,315.12 299.28,315.47 302.7,316.1C306.12,316.73 310.45,317.07 313,318.1C315.55,319.13 316.58,320.73 318,322.3C319.42,323.87 319.97,325.72 321.5,327.5C323.03,329.28 325.25,334.13 327.2,333C329.15,331.87 331.15,324.02 333.2,320.7C335.25,317.38 336.97,313.1 339.5,313.1C342.03,313.1 344.82,318.38 348.4,320.7C351.98,323.02 357.67,325.45 361,327C364.33,328.55 366,328.33 368.4,330C370.8,331.67 373.65,335.93 375.4,337C377.15,338.07 377.93,336.68 378.9,336.4C379.87,336.12 379.85,335.68 381.2,335.3C382.55,334.92 384.47,334.3 387,334.1C389.53,333.9 394.05,333.82 396.4,334.1C398.75,334.38 399.55,334.73 401.1,335.8C402.65,336.87 403.57,338.97 405.7,340.5C407.83,342.03 411.57,345 413.9,345C416.23,345 418.23,341.93 419.7,340.5C421.17,339.07 421.68,338.15 422.7,336.4C423.72,334.65 424.53,331.35 425.8,330C427.07,328.65 428.28,328.8 430.3,328.3C432.32,327.8 435.45,327.85 437.9,327C440.35,326.15 442.33,322.7 445,323.2C447.67,323.7 451.65,328.57 453.9,330C456.15,331.43 456.37,331.22 458.5,331.8C460.63,332.38 464.75,332.73 466.7,333.5C468.65,334.27 467.77,334.93 470.2,336.4C472.63,337.87 478.57,341.82 481.3,342.3C484.03,342.78 485.03,340.28 486.6,339.3C488.17,338.32 489.63,337.07 490.7,336.4C491.77,335.73 492.23,335.3 493,335.3C493.77,335.3 494.13,335.43 495.3,336.4C496.47,337.37 498.68,339.67 500,341.1C501.32,342.53 502.08,344.9 503.2,345C504.32,345.1 505.73,343.13 506.7,341.7C507.67,340.27 508.22,338.35 509,336.4C509.78,334.45 510.07,331.98 511.4,330C512.73,328.02 514.48,324.5 517,324.5C519.52,324.5 524.13,328.02 526.5,330C528.87,331.98 529.83,334.85 531.2,336.4C532.57,337.95 533.33,339.3 534.7,339.3C536.07,339.3 538.03,337.95 539.4,336.4C540.77,334.85 541.48,331.77 542.9,330C544.32,328.23 545.6,327.02 547.9,325.8C550.2,324.58 553.33,322.88 556.7,322.7C560.07,322.52 564.63,324.32 568.1,324.7C571.57,325.08 574.87,323.1 577.5,325C580.13,326.9 582.33,333.92 583.9,336.1C585.47,338.28 585.72,338.1 586.9,338.1C588.08,338.1 589.65,337.32 591,336.1C592.35,334.88 593.45,331.97 595,330.8C596.55,329.63 598.73,329.1 600.3,329.1C601.87,329.1 603.23,329.73 604.4,330.8C605.57,331.87 605.93,333.25 607.3,335.5C608.67,337.75 610.95,342.55 612.6,344.3C614.25,346.05 615.65,345.72 617.2,346C618.75,346.28 621.12,346 621.9,346" fill="none" stroke="#0a0af0" stroke-width="2" stroke-linejoin="round"/>
<path d="M38.1,330.8C38.58,331.78 39.93,334.75 41,336.7C42.07,338.65 43.02,340.62 44.5,342.5C45.98,344.38 48.15,347.5 49.9,348C51.65,348.5 53.28,347.27 55,345.5C56.72,343.73 58.23,340.83 60.2,337.4C62.17,333.97 64.22,328.33 66.8,324.9C69.38,321.47 72.75,317.7 75.7,316.8C78.65,315.9 81.8,318.4 84.5,319.5C87.2,320.6 89.2,321.93 91.9,323.4C94.6,324.87 97.77,328.9 100.7,328.3C103.63,327.7 106.92,322.7 109.5,319.8C112.08,316.9 113.73,310.95 116.2,310.9C118.67,310.85 122.33,318.1 124.3,319.5C126.27,320.9 126.42,319.75 128,319.3C129.58,318.85 130.98,315.98 133.8,316.8C136.62,317.62 141.45,323.33 144.9,324.2C148.35,325.07 151.93,323.23 154.5,322C157.07,320.77 157.85,319.82 160.3,316.8C162.75,313.78 166.37,304.63 169.2,303.9C172.03,303.17 174.85,309.52 177.3,312.4C179.75,315.28 181.08,321.88 183.9,321.2C186.72,320.52 191,309.32 194.2,308.3C197.4,307.28 199.9,314.67 203.1,315.1C206.3,315.53 209.6,312.25 213.4,310.9C217.2,309.55 222.72,307.48 225.9,307C229.08,306.52 229.32,309.23 232.5,308C235.68,306.77 241.2,300.1 245,299.6C248.8,299.1 252.13,305.2 255.3,305C258.47,304.8 261.47,297.82 264,298.4C266.53,298.98 268.47,305.52 270.5,308.5C272.53,311.48 273.95,315.85 276.2,316.3C278.45,316.75 281.28,311.53 284,311.2C286.72,310.87 289.38,313.48 292.5,314.3C295.62,315.12 299.28,315.47 302.7,316.1C306.12,316.73 310.45,317.07 313,318.1C315.55,319.13 316.58,320.73 318,322.3C319.42,323.87 319.97,325.72 321.5,327.5C323.03,329.28 325.25,334.13 327.2,333C329.15,331.87 331.15,324.02 333.2,320.7C335.25,317.38 336.97,313.1 339.5,313.1C342.03,313.1 344.82,318.38 348.4,320.7C351.98,323.02 357.67,325.45 361,327C364.33,328.55 366,328.33 368.4,330C370.8,331.67 373.65,335.93 375.4,337C377.15,338.07 377.93,336.68 378.9,336.4C379.87,336.12 379.85,335.68 381.2,335.3C382.55,334.92 384.47,334.3 387,334.1C389.53,333.9 394.05,333.82 396.4,334.1C398.75,334.38 399.55,334.73 401.1,335.8C402.65,336.87 403.57,338.97 405.7,340.5C407.83,342.03 411.57,345 413.9,345C416.23,345 418.23,341.93 419.7,340.5C421.17,339.07 421.68,338.15 422.7,336.4C423.72,334.65 424.53,331.35 425.8,330C427.07,328.65 428.28,328.8 430.3,328.3C432.32,327.8 435.45,327.85 437.9,327C440.35,326.15 442.33,322.7 445,323.2C447.67,323.7 451.65,328.57 453.9,330C456.15,331.43 456.37,331.22 458.5,331.8C460.63,332.38 464.75,332.73 466.7,333.5C468.65,334.27 467.77,334.93 470.2,336.4C472.63,337.87 478.57,341.82 481.3,342.3C484.03,342.78 485.03,340.28 486.6,339.3C488.17,338.32 489.63,337.07 490.7,336.4C491.77,335.73 492.23,335.3 493,335.3C493.77,335.3 494.13,335.43 495.3,336.4C496.47,337.37 498.68,339.67 500,341.1C501.32,342.53 502.08,344.9 503.2,345C504.32,345.1 505.73,343.13 506.7,341.7C507.67,340.27 508.22,338.35 509,336.4C509.78,334.45 510.07,331.98 511.4,330C512.73,328.02 514.48,324.5 517,324.5C519.52,324.5 524.13,328.02 526.5,330C528.87,331.98 529.83,334.85 531.2,336.4C532.57,337.95 533.33,339.3 534.7,339.3C536.07,339.3 538.03,337.95 539.4,336.4C540.77,334.85 541.48,331.77 542.9,330C544.32,328.23 545.6,327.02 547.9,325.8C550.2,324.58 553.33,322.88 556.7,322.7C560.07,322.52 564.63,324.32 568.1,324.7C571.57,325.08 574.87,323.1 577.5,325C580.13,326.9 582.33,333.92 583.9,336.1C585.47,338.28 585.72,338.1 586.9,338.1C588.08,338.1 589.65,337.32 591,336.1C592.35,334.88 593.45,331.97 595,330.8C596.55,329.63 598.73,329.1 600.3,329.1C601.87,329.1 603.23,329.73 604.4,330.8C605.57,331.87 605.93,333.25 607.3,335.5C608.67,337.75 610.95,342.55 612.6,344.3C614.25,346.05 615.65,345.72 617.2,346C618.75,346.28 621.12,346 621.9,346" fill="none" stroke="#f01010" stroke-width="2" stroke-linejoin="round" clip-path="url(#redclip)"/>
<line x1="264.2" y1="299.1" x2="316.15" y2="326.56" stroke="#111" stroke-width="0.75" />
<path d="M327.2,332.4 L314.7,329.3 L317.6,323.82 Z" fill="#111"/>
<line x1="340.8" y1="313.1" x2="402.04" y2="339.8" stroke="#111" stroke-width="0.75" />
<path d="M413.5,344.8 L400.8,342.65 L403.28,336.96 Z" fill="#111"/>
<line x1="443.4" y1="322" x2="491.82" y2="340.45" stroke="#111" stroke-width="0.75" />
<path d="M503.5,344.9 L490.72,343.35 L492.92,337.55 Z" fill="#111"/>
<polygon points="83.5,211.7 84.82,214.88 88.26,215.15 85.64,217.4 86.44,220.75 83.5,218.95 80.56,220.75 81.36,217.4 78.74,215.15 82.18,214.88" fill="#ff0000"/>
<g transform="rotate(-0.115 330 315)">
<rect x="32.3" y="182.85" width="78.8" height="26.6" fill="#bfdcfa"/>
<rect x="111.1" y="182.85" width="137.3" height="26.6" fill="#eeeeee"/>
<rect x="248.4" y="182.85" width="1.4" height="26.6" fill="#bfdcfa"/>
<rect x="249.8" y="182.85" width="35.8" height="26.6" fill="#eeeeee"/>
<rect x="285.6" y="182.85" width="1.3" height="26.6" fill="#bfdcfa"/>
<rect x="286.9" y="182.85" width="33.9" height="26.6" fill="#eeeeee"/>
<rect x="320.8" y="182.85" width="10.5" height="26.6" fill="#bfdcfa"/>
<rect x="331.3" y="182.85" width="50.7" height="26.6" fill="#eeeeee"/>
<rect x="382" y="182.85" width="5.8" height="26.6" fill="#bfdcfa"/>
<rect x="387.8" y="182.85" width="49.7" height="26.6" fill="#eeeeee"/>
<rect x="437.5" y="182.85" width="10.6" height="26.6" fill="#bfdcfa"/>
<rect x="448.1" y="182.85" width="50.7" height="26.6" fill="#eeeeee"/>
<rect x="498.8" y="182.85" width="14.6" height="26.6" fill="#bfdcfa"/>
<rect x="513.4" y="182.85" width="49.3" height="26.6" fill="#eeeeee"/>
<rect x="562.7" y="182.85" width="43.6" height="26.6" fill="#bfdcfa"/>
<line x1="154.7" y1="192" x2="154.7" y2="209.45" stroke="#777" stroke-width="0.9" />
<line x1="474.7" y1="189.2" x2="474.7" y2="209.45" stroke="#777" stroke-width="0.9" />
</g>
<rect x="155.3" y="209.4" width="94.4" height="14.7" fill="#c4defb"/>
<text x="162.8" y="219.8" font-size="8.3" text-anchor="start" fill="#2438e0" font-style="italic">Culture Blooming Age</text>
<text x="71.4" y="201.9" font-size="8.3" text-anchor="middle" fill="#1e1e1e" >Shang</text>
<text x="154.2" y="190.8" font-size="8.3" text-anchor="middle" fill="#1e1e1e" >Zhou</text>
<text x="129.9" y="201.9" font-size="8.3" text-anchor="middle" fill="#1e1e1e" >West</text>
<text x="198.5" y="201.9" font-size="8.3" text-anchor="middle" fill="#1e1e1e" >East</text>
<text x="248" y="190.8" font-size="8.3" text-anchor="middle" fill="#1e1e1e" >Qin</text>
<text x="285" y="190.8" font-size="8.3" text-anchor="middle" fill="#1e1e1e" >Xin</text>
<text x="266" y="198.2" font-size="8.3" text-anchor="middle" fill="#1e1e1e" >Western</text>
<text x="266.6" y="206.7" font-size="8.3" text-anchor="middle" fill="#1e1e1e" >Han</text>
<text x="305.2" y="198.2" font-size="8.3" text-anchor="middle" fill="#1e1e1e" >Eastern</text>
<text x="305.1" y="206.7" font-size="8.3" text-anchor="middle" fill="#1e1e1e" >Han</text>
<text transform="translate(324.0,203.2) rotate(-90)" font-size="8.3" text-anchor="middle" fill="#1e1e1e">Three</text>
<text transform="translate(330.9,201.5) rotate(-90)" font-size="8.3" text-anchor="middle" fill="#1e1e1e">Kingdoms</text>
<text x="354.4" y="197.1" font-size="8.3" text-anchor="middle" fill="#1e1e1e" >Era of</text>
<text x="355.3" y="205.9" font-size="8.3" text-anchor="middle" fill="#1e1e1e" >Disunity</text>
<text x="383.1" y="201.8" font-size="8.3" text-anchor="middle" fill="#1e1e1e" >Sui</text>
<text x="410.4" y="201.8" font-size="8.3" text-anchor="middle" fill="#1e1e1e" >Tang</text>
<text transform="translate(446.5,199.8) rotate(-90)" font-size="8.3" text-anchor="middle" fill="#1e1e1e">5D&amp;10K</text>
<text x="473" y="190.8" font-size="8.3" text-anchor="middle" fill="#1e1e1e" >Song</text>
<text x="461.1" y="202.2" font-size="8.3" text-anchor="middle" fill="#1e1e1e" >North</text>
<text x="486" y="202.2" font-size="8.3" text-anchor="middle" fill="#1e1e1e" >South</text>
<text x="505.9" y="202.2" font-size="8.3" text-anchor="middle" fill="#1e1e1e" >Yuan</text>
<text x="536.8" y="202.2" font-size="8.3" text-anchor="middle" fill="#1e1e1e" >Ming</text>
<text x="582.3" y="202.2" font-size="8.3" text-anchor="middle" fill="#1e1e1e" >Qing</text>
<g transform="rotate(-0.115 330 315)">
<rect x="32.3" y="182.85" width="596.4" height="264.05" fill="none" stroke="#3a3a3a" stroke-width="0.9"/>
<line x1="32.3" y1="433.89" x2="36.3" y2="433.89" stroke="#3a3a3a" stroke-width="0.9" />
<line x1="32.3" y1="420.67" x2="36.3" y2="420.67" stroke="#3a3a3a" stroke-width="0.9" />
<line x1="32.3" y1="407.46" x2="36.3" y2="407.46" stroke="#3a3a3a" stroke-width="0.9" />
<line x1="32.3" y1="394.24" x2="36.3" y2="394.24" stroke="#3a3a3a" stroke-width="0.9" />
<line x1="32.3" y1="381.03" x2="38.3" y2="381.03" stroke="#3a3a3a" stroke-width="0.9" />
<line x1="32.3" y1="367.81" x2="36.3" y2="367.81" stroke="#3a3a3a" stroke-width="0.9" />
<line x1="32.3" y1="354.6" x2="36.3" y2="354.6" stroke="#3a3a3a" stroke-width="0.9" />
<line x1="32.3" y1="341.38" x2="36.3" y2="341.38" stroke="#3a3a3a" stroke-width="0.9" />
<line x1="32.3" y1="328.17" x2="36.3" y2="328.17" stroke="#3a3a3a" stroke-width="0.9" />
<line x1="32.3" y1="314.95" x2="38.3" y2="314.95" stroke="#3a3a3a" stroke-width="0.9" />
<line x1="32.3" y1="301.74" x2="36.3" y2="301.74" stroke="#3a3a3a" stroke-width="0.9" />
<line x1="32.3" y1="288.52" x2="36.3" y2="288.52" stroke="#3a3a3a" stroke-width="0.9" />
<line x1="32.3" y1="275.31" x2="36.3" y2="275.31" stroke="#3a3a3a" stroke-width="0.9" />
<line x1="32.3" y1="262.09" x2="36.3" y2="262.09" stroke="#3a3a3a" stroke-width="0.9" />
<line x1="32.3" y1="248.88" x2="38.3" y2="248.88" stroke="#3a3a3a" stroke-width="0.9" />
<line x1="32.3" y1="235.66" x2="36.3" y2="235.66" stroke="#3a3a3a" stroke-width="0.9" />
<line x1="32.3" y1="222.45" x2="36.3" y2="222.45" stroke="#3a3a3a" stroke-width="0.9" />
<line x1="32.3" y1="209.23" x2="36.3" y2="209.23" stroke="#3a3a3a" stroke-width="0.9" />
<line x1="32.3" y1="196.02" x2="36.3" y2="196.02" stroke="#3a3a3a" stroke-width="0.9" />
<line x1="49.42" y1="446.9" x2="49.42" y2="442.7" stroke="#3a3a3a" stroke-width="0.9" />
<line x1="66.2" y1="446.9" x2="66.2" y2="442.7" stroke="#3a3a3a" stroke-width="0.9" />
<line x1="82.98" y1="446.9" x2="82.98" y2="442.7" stroke="#3a3a3a" stroke-width="0.9" />
<line x1="99.76" y1="446.9" x2="99.76" y2="442.7" stroke="#3a3a3a" stroke-width="0.9" />
<line x1="116.54" y1="446.9" x2="116.54" y2="438.3" stroke="#3a3a3a" stroke-width="0.9" />
<line x1="133.32" y1="446.9" x2="133.32" y2="442.7" stroke="#3a3a3a" stroke-width="0.9" />
<line x1="150.1" y1="446.9" x2="150.1" y2="442.7" stroke="#3a3a3a" stroke-width="0.9" />
<line x1="166.88" y1="446.9" x2="166.88" y2="442.7" stroke="#3a3a3a" stroke-width="0.9" />
<line x1="183.66" y1="446.9" x2="183.66" y2="442.7" stroke="#3a3a3a" stroke-width="0.9" />
<line x1="200.44" y1="446.9" x2="200.44" y2="438.3" stroke="#3a3a3a" stroke-width="0.9" />
<line x1="217.22" y1="446.9" x2="217.22" y2="442.7" stroke="#3a3a3a" stroke-width="0.9" />
<line x1="234" y1="446.9" x2="234" y2="442.7" stroke="#3a3a3a" stroke-width="0.9" />
<line x1="250.78" y1="446.9" x2="250.78" y2="442.7" stroke="#3a3a3a" stroke-width="0.9" />
<line x1="267.56" y1="446.9" x2="267.56" y2="442.7" stroke="#3a3a3a" stroke-width="0.9" />
<line x1="284.34" y1="446.9" x2="284.34" y2="438.3" stroke="#3a3a3a" stroke-width="0.9" />
<line x1="301.12" y1="446.9" x2="301.12" y2="442.7" stroke="#3a3a3a" stroke-width="0.9" />
<line x1="317.9" y1="446.9" x2="317.9" y2="442.7" stroke="#3a3a3a" stroke-width="0.9" />
<line x1="334.68" y1="446.9" x2="334.68" y2="442.7" stroke="#3a3a3a" stroke-width="0.9" />
<line x1="351.46" y1="446.9" x2="351.46" y2="442.7" stroke="#3a3a3a" stroke-width="0.9" />
<line x1="368.24" y1="446.9" x2="368.24" y2="438.3" stroke="#3a3a3a" stroke-width="0.9" />
<line x1="385.02" y1="446.9" x2="385.02" y2="442.7" stroke="#3a3a3a" stroke-width="0.9" />
<line x1="401.8" y1="446.9" x2="401.8" y2="442.7" stroke="#3a3a3a" stroke-width="0.9" />
<line x1="418.58" y1="446.9" x2="418.58" y2="442.7" stroke="#3a3a3a" stroke-width="0.9" />
<line x1="435.36" y1="446.9" x2="435.36" y2="442.7" stroke="#3a3a3a" stroke-width="0.9" />
<line x1="452.14" y1="446.9" x2="452.14" y2="438.3" stroke="#3a3a3a" stroke-width="0.9" />
<line x1="468.92" y1="446.9" x2="468.92" y2="442.7" stroke="#3a3a3a" stroke-width="0.9" />
<line x1="485.7" y1="446.9" x2="485.7" y2="442.7" stroke="#3a3a3a" stroke-width="0.9" />
<line x1="502.48" y1="446.9" x2="502.48" y2="442.7" stroke="#3a3a3a" stroke-width="0.9" />
<line x1="519.26" y1="446.9" x2="519.26" y2="442.7" stroke="#3a3a3a" stroke-width="0.9" />
<line x1="536.04" y1="446.9" x2="536.04" y2="438.3" stroke="#3a3a3a" stroke-width="0.9" />
<line x1="552.82" y1="446.9" x2="552.82" y2="442.7" stroke="#3a3a3a" stroke-width="0.9" />
<line x1="569.6" y1="446.9" x2="569.6" y2="442.7" stroke="#3a3a3a" stroke-width="0.9" />
<line x1="586.38" y1="446.9" x2="586.38" y2="442.7" stroke="#3a3a3a" stroke-width="0.9" />
<line x1="603.16" y1="446.9" x2="603.16" y2="442.7" stroke="#3a3a3a" stroke-width="0.9" />
<line x1="619.94" y1="446.9" x2="619.94" y2="438.3" stroke="#3a3a3a" stroke-width="0.9" />
</g>
<text x="26" y="450.9" font-size="8.3" text-anchor="end" fill="#1e1e1e" >150</text>
<text x="26" y="384.82" font-size="8.3" text-anchor="end" fill="#1e1e1e" >200</text>
<text x="26" y="318.75" font-size="8.3" text-anchor="end" fill="#1e1e1e" >250</text>
<text x="26" y="252.67" font-size="8.3" text-anchor="end" fill="#1e1e1e" >300</text>
<text x="26" y="186.6" font-size="8.3" text-anchor="end" fill="#1e1e1e" >350</text>
<text x="31.5" y="461" font-size="8.3" text-anchor="middle" fill="#1e1e1e" >-1500</text>
<text x="115.4" y="461" font-size="8.3" text-anchor="middle" fill="#1e1e1e" >-1000</text>
<text x="199.3" y="461" font-size="8.3" text-anchor="middle" fill="#1e1e1e" >-500</text>
<text x="283.2" y="461" font-size="8.3" text-anchor="middle" fill="#1e1e1e" >-1/1</text>
<text x="368.5" y="461" font-size="8.3" text-anchor="middle" fill="#1e1e1e" >500</text>
<text x="452.4" y="461" font-size="8.3" text-anchor="middle" fill="#1e1e1e" >1000</text>
<text x="536.3" y="461" font-size="8.3" text-anchor="middle" fill="#1e1e1e" >1500</text>
<text x="620.2" y="461" font-size="8.3" text-anchor="middle" fill="#1e1e1e" >2000</text>
<text x="334.3" y="473.2" font-size="8.3" text-anchor="middle" fill="#1e1e1e" >Year(BC/AD)</text>
<text transform="translate(6.7,313.4) rotate(-90)" font-size="8.3" text-anchor="middle" fill="#1e1e1e">Precipitation (mm)</text>
<text x="3.6" y="186.1" font-size="8.3" text-anchor="start" fill="#1e1e1e" >d</text>
<text x="631.9" y="314.5" font-size="8.3" text-anchor="start" fill="#2a2aee" >Mean + &#963;</text>
<text x="631.9" y="326.9" font-size="8.3" text-anchor="start" fill="#ee2244" >Mean</text>
<text x="631.9" y="338.7" font-size="8.3" text-anchor="start" fill="#2a2aee" >Mean - &#963;</text>
<text x="631.9" y="350.2" font-size="8.3" text-anchor="start" fill="#f5a030" >Mean</text>
<text x="631.9" y="360" font-size="8.3" text-anchor="start" fill="#f5a030" >AD 1930-2010</text>
<rect x="326.7" y="406" width="2" height="9.5" fill="#ff8a10"/>
<path d="M327.7,393.2 L330.9,407 L324.5,407 Z" fill="#ff8a10"/>
<text x="328.8" y="429" font-size="8.3" text-anchor="middle" fill="#f07a50" font-style="italic">Three Kingdom War</text>
<text x="328" y="439.2" font-size="8.3" text-anchor="middle" fill="#f07a50" font-style="italic">(AD220-280)</text>
<rect x="234.4" y="359.6" width="36.2" height="71.4" fill="#fff"/>
<rect x="242.2" y="359.6" width="12.9" height="71.4" fill="#e3e3e3"/>
<polyline points="234.4,375.2 235.2,380 235.9,378.6 236.8,371.5 237.6,373.5 238.5,382 239.3,388.7 240,380 240.5,373.5 241.3,381 242.1,387 243.2,383 244.3,378.6 245.2,375 246,376.9 246.8,384 247.7,388.7 248.3,381 248.9,382 249.8,390 250.6,393.8 251.3,390 251.9,398.8 252.8,392 253.6,393.8 254.3,399 255,403.9 255.6,412 256.1,424.1 256.7,414 257.3,405.6 258,390 258.7,380.3 259.6,390 260.4,395.5 261.2,392 262,400.5 262.9,393 263.7,387 264.6,390 265.4,382 266.2,386 267.1,380.3 268.3,386 269.6,383.7 270.5,380.3" fill="none" stroke="#a9cff5" stroke-width="0.75"/>
<rect x="234.4" y="359.6" width="36.2" height="71.4" fill="none" stroke="#3a3a3a" stroke-width="0.9"/>
<line x1="234.4" y1="424.43" x2="237.8" y2="424.43" stroke="#3a3a3a" stroke-width="0.8" />
<line x1="234.4" y1="413.2" x2="240.4" y2="413.2" stroke="#3a3a3a" stroke-width="0.8" />
<text x="230.6" y="416.8" font-size="8.3" text-anchor="end" fill="#1e1e1e" >200</text>
<line x1="234.4" y1="401.97" x2="237.8" y2="401.97" stroke="#3a3a3a" stroke-width="0.8" />
<line x1="234.4" y1="390.75" x2="240.4" y2="390.75" stroke="#3a3a3a" stroke-width="0.8" />
<text x="230.6" y="394.35" font-size="8.3" text-anchor="end" fill="#1e1e1e" >250</text>
<line x1="234.4" y1="379.52" x2="237.8" y2="379.52" stroke="#3a3a3a" stroke-width="0.8" />
<line x1="234.4" y1="368.3" x2="240.4" y2="368.3" stroke="#3a3a3a" stroke-width="0.8" />
<text x="230.6" y="371.9" font-size="8.3" text-anchor="end" fill="#1e1e1e" >300</text>
<line x1="238.02" y1="431" x2="238.02" y2="427.8" stroke="#3a3a3a" stroke-width="0.8" />
<line x1="241.64" y1="431" x2="241.64" y2="427.8" stroke="#3a3a3a" stroke-width="0.8" />
<line x1="245.26" y1="431" x2="245.26" y2="427.8" stroke="#3a3a3a" stroke-width="0.8" />
<line x1="248.88" y1="431" x2="248.88" y2="427.8" stroke="#3a3a3a" stroke-width="0.8" />
<line x1="252.5" y1="431" x2="252.5" y2="424" stroke="#3a3a3a" stroke-width="0.8" />
<line x1="256.12" y1="431" x2="256.12" y2="427.8" stroke="#3a3a3a" stroke-width="0.8" />
<line x1="259.74" y1="431" x2="259.74" y2="427.8" stroke="#3a3a3a" stroke-width="0.8" />
<line x1="263.36" y1="431" x2="263.36" y2="427.8" stroke="#3a3a3a" stroke-width="0.8" />
<line x1="266.98" y1="431" x2="266.98" y2="427.8" stroke="#3a3a3a" stroke-width="0.8" />
<text x="233" y="427.9" font-size="8.3" text-anchor="end" fill="#1e1e1e" >(mm)</text>
<text x="234" y="440.8" font-size="8.3" text-anchor="middle" fill="#1e1e1e" >-1/1</text>
<text x="252.4" y="440.8" font-size="8.3" text-anchor="middle" fill="#1e1e1e" >20</text>
<text x="270.3" y="440.8" font-size="8.3" text-anchor="middle" fill="#1e1e1e" >40</text>
<text x="277.5" y="440.8" font-size="8.3" text-anchor="start" fill="#1e1e1e" >(AD)</text>
<text x="243" y="369.3" font-size="8.3" text-anchor="start" fill="#1e1e1e" >Xin</text>
<text x="222" y="357.4" font-size="8.3" text-anchor="start" fill="#1e1e1e" >e</text>
<line x1="288.4" y1="375" x2="276.41" y2="406.91" stroke="#111" stroke-width="0.7" />
<path d="M273.6,414.4 L274.07,406.03 L278.75,407.79 Z" fill="#111"/>
</svg>
</body></html>
